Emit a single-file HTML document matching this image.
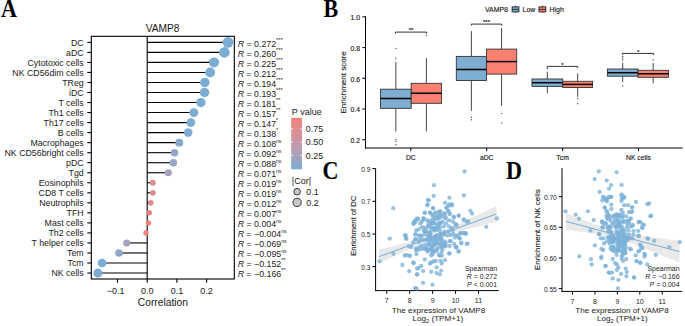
<!DOCTYPE html>
<html><head><meta charset="utf-8"><style>
html,body{margin:0;padding:0;background:#fff;}
svg{display:block;}
text{font-family:"Liberation Sans", sans-serif;fill:#1a1a1a;}
text[font-size="6.8"],text[font-size="6.9"],text[font-size="6.0"]{stroke:#1a1a1a;stroke-width:0.15px;}
text[font-size="7.6"],text[font-size="8.0"]{stroke:#1a1a1a;stroke-width:0.12px;}
text.serif{font-family:"Liberation Serif", serif;fill:#000;stroke:none;}
</style></head><body>
<svg width="685" height="326" viewBox="0 0 685 326">
<text transform="translate(1.0,16.8) scale(0.92,1.04)" class="serif" font-weight="bold" font-size="24">A</text>
<text transform="translate(323.6,16.5) scale(0.92,1.04)" class="serif" font-weight="bold" font-size="24">B</text>
<text transform="translate(322.6,178.8) scale(0.92,1.04)" class="serif" font-weight="bold" font-size="24">C</text>
<text transform="translate(505.9,178.5) scale(0.92,1.04)" class="serif" font-weight="bold" font-size="24">D</text>
<text x="162.60" y="31.80" font-size="10.2" text-anchor="middle" >VAMP8</text>
<rect x="91.3" y="36.3" width="143.0" height="242.7" fill="none" stroke="#000" stroke-width="1.1"/>
<line x1="147.20" y1="36.30" x2="147.20" y2="279.00" stroke="#000" stroke-width="1.1" />
<line x1="87.30" y1="42.35" x2="91.30" y2="42.35" stroke="#000" stroke-width="1.1" />
<text x="83.70" y="45.80" font-size="8.8" text-anchor="end" >DC</text>
<line x1="147.20" y1="42.35" x2="227.98" y2="42.35" stroke="#000" stroke-width="1.1" />
<line x1="87.30" y1="52.38" x2="91.30" y2="52.38" stroke="#000" stroke-width="1.1" />
<text x="83.70" y="55.83" font-size="8.8" text-anchor="end" >aDC</text>
<line x1="147.20" y1="52.38" x2="224.42" y2="52.38" stroke="#000" stroke-width="1.1" />
<line x1="87.30" y1="62.41" x2="91.30" y2="62.41" stroke="#000" stroke-width="1.1" />
<text x="83.70" y="65.86" font-size="8.8" text-anchor="end" >Cytotoxic cells</text>
<line x1="147.20" y1="62.41" x2="214.02" y2="62.41" stroke="#000" stroke-width="1.1" />
<line x1="87.30" y1="72.44" x2="91.30" y2="72.44" stroke="#000" stroke-width="1.1" />
<text x="83.70" y="75.89" font-size="8.8" text-anchor="end" >NK CD56dim cells</text>
<line x1="147.20" y1="72.44" x2="210.16" y2="72.44" stroke="#000" stroke-width="1.1" />
<line x1="87.30" y1="82.47" x2="91.30" y2="82.47" stroke="#000" stroke-width="1.1" />
<text x="83.70" y="85.92" font-size="8.8" text-anchor="end" >TReg</text>
<line x1="147.20" y1="82.47" x2="204.82" y2="82.47" stroke="#000" stroke-width="1.1" />
<line x1="87.30" y1="92.50" x2="91.30" y2="92.50" stroke="#000" stroke-width="1.1" />
<text x="83.70" y="95.95" font-size="8.8" text-anchor="end" >iDC</text>
<line x1="147.20" y1="92.50" x2="204.52" y2="92.50" stroke="#000" stroke-width="1.1" />
<line x1="87.30" y1="102.53" x2="91.30" y2="102.53" stroke="#000" stroke-width="1.1" />
<text x="83.70" y="105.98" font-size="8.8" text-anchor="end" >T cells</text>
<line x1="147.20" y1="102.53" x2="200.96" y2="102.53" stroke="#000" stroke-width="1.1" />
<line x1="87.30" y1="112.56" x2="91.30" y2="112.56" stroke="#000" stroke-width="1.1" />
<text x="83.70" y="116.01" font-size="8.8" text-anchor="end" >Th1 cells</text>
<line x1="147.20" y1="112.56" x2="193.83" y2="112.56" stroke="#000" stroke-width="1.1" />
<line x1="87.30" y1="122.59" x2="91.30" y2="122.59" stroke="#000" stroke-width="1.1" />
<text x="83.70" y="126.04" font-size="8.8" text-anchor="end" >Th17 cells</text>
<line x1="147.20" y1="122.59" x2="190.86" y2="122.59" stroke="#000" stroke-width="1.1" />
<line x1="87.30" y1="132.62" x2="91.30" y2="132.62" stroke="#000" stroke-width="1.1" />
<text x="83.70" y="136.07" font-size="8.8" text-anchor="end" >B cells</text>
<line x1="147.20" y1="132.62" x2="188.19" y2="132.62" stroke="#000" stroke-width="1.1" />
<line x1="87.30" y1="142.65" x2="91.30" y2="142.65" stroke="#000" stroke-width="1.1" />
<text x="83.70" y="146.10" font-size="8.8" text-anchor="end" >Macrophages</text>
<line x1="147.20" y1="142.65" x2="179.28" y2="142.65" stroke="#000" stroke-width="1.1" />
<line x1="87.30" y1="152.68" x2="91.30" y2="152.68" stroke="#000" stroke-width="1.1" />
<text x="83.70" y="156.13" font-size="8.8" text-anchor="end" >NK CD56bright cells</text>
<line x1="147.20" y1="152.68" x2="174.52" y2="152.68" stroke="#000" stroke-width="1.1" />
<line x1="87.30" y1="162.71" x2="91.30" y2="162.71" stroke="#000" stroke-width="1.1" />
<text x="83.70" y="166.16" font-size="8.8" text-anchor="end" >pDC</text>
<line x1="147.20" y1="162.71" x2="173.34" y2="162.71" stroke="#000" stroke-width="1.1" />
<line x1="87.30" y1="172.74" x2="91.30" y2="172.74" stroke="#000" stroke-width="1.1" />
<text x="83.70" y="176.19" font-size="8.8" text-anchor="end" >Tgd</text>
<line x1="147.20" y1="172.74" x2="168.29" y2="172.74" stroke="#000" stroke-width="1.1" />
<line x1="87.30" y1="182.77" x2="91.30" y2="182.77" stroke="#000" stroke-width="1.1" />
<text x="83.70" y="186.22" font-size="8.8" text-anchor="end" >Eosinophils</text>
<line x1="147.20" y1="182.77" x2="152.84" y2="182.77" stroke="#000" stroke-width="1.1" />
<line x1="87.30" y1="192.80" x2="91.30" y2="192.80" stroke="#000" stroke-width="1.1" />
<text x="83.70" y="196.25" font-size="8.8" text-anchor="end" >CD8 T cells</text>
<line x1="147.20" y1="192.80" x2="152.84" y2="192.80" stroke="#000" stroke-width="1.1" />
<line x1="87.30" y1="202.83" x2="91.30" y2="202.83" stroke="#000" stroke-width="1.1" />
<text x="83.70" y="206.28" font-size="8.8" text-anchor="end" >Neutrophils</text>
<line x1="147.20" y1="202.83" x2="150.76" y2="202.83" stroke="#000" stroke-width="1.1" />
<line x1="87.30" y1="212.86" x2="91.30" y2="212.86" stroke="#000" stroke-width="1.1" />
<text x="83.70" y="216.31" font-size="8.8" text-anchor="end" >TFH</text>
<line x1="147.20" y1="212.86" x2="149.28" y2="212.86" stroke="#000" stroke-width="1.1" />
<line x1="87.30" y1="222.89" x2="91.30" y2="222.89" stroke="#000" stroke-width="1.1" />
<text x="83.70" y="226.34" font-size="8.8" text-anchor="end" >Mast cells</text>
<line x1="147.20" y1="222.89" x2="148.39" y2="222.89" stroke="#000" stroke-width="1.1" />
<line x1="87.30" y1="232.92" x2="91.30" y2="232.92" stroke="#000" stroke-width="1.1" />
<text x="83.70" y="236.37" font-size="8.8" text-anchor="end" >Th2 cells</text>
<line x1="147.20" y1="232.92" x2="146.01" y2="232.92" stroke="#000" stroke-width="1.1" />
<line x1="87.30" y1="242.95" x2="91.30" y2="242.95" stroke="#000" stroke-width="1.1" />
<text x="83.70" y="246.40" font-size="8.8" text-anchor="end" >T helper cells</text>
<line x1="147.20" y1="242.95" x2="126.71" y2="242.95" stroke="#000" stroke-width="1.1" />
<line x1="87.30" y1="252.98" x2="91.30" y2="252.98" stroke="#000" stroke-width="1.1" />
<text x="83.70" y="256.43" font-size="8.8" text-anchor="end" >Tem</text>
<line x1="147.20" y1="252.98" x2="118.98" y2="252.98" stroke="#000" stroke-width="1.1" />
<line x1="87.30" y1="263.01" x2="91.30" y2="263.01" stroke="#000" stroke-width="1.1" />
<text x="83.70" y="266.46" font-size="8.8" text-anchor="end" >Tcm</text>
<line x1="147.20" y1="263.01" x2="102.06" y2="263.01" stroke="#000" stroke-width="1.1" />
<line x1="87.30" y1="273.04" x2="91.30" y2="273.04" stroke="#000" stroke-width="1.1" />
<text x="83.70" y="276.49" font-size="8.8" text-anchor="end" >NK cells</text>
<line x1="147.20" y1="273.04" x2="97.90" y2="273.04" stroke="#000" stroke-width="1.1" />
<circle cx="227.98" cy="42.35" r="5.36" fill="rgb(122,172,212)"/>
<circle cx="224.42" cy="52.38" r="5.27" fill="rgb(122,172,212)"/>
<circle cx="214.02" cy="62.41" r="5.00" fill="rgb(122,172,212)"/>
<circle cx="210.16" cy="72.44" r="4.89" fill="rgb(122,172,212)"/>
<circle cx="204.82" cy="82.47" r="4.75" fill="rgb(122,172,212)"/>
<circle cx="204.52" cy="92.50" r="4.74" fill="rgb(122,172,212)"/>
<circle cx="200.96" cy="102.53" r="4.63" fill="rgb(122,172,212)"/>
<circle cx="193.83" cy="112.56" r="4.42" fill="rgb(124,172,211)"/>
<circle cx="190.86" cy="122.59" r="4.33" fill="rgb(125,172,211)"/>
<circle cx="188.19" cy="132.62" r="4.25" fill="rgb(126,171,210)"/>
<circle cx="179.28" cy="142.65" r="3.95" fill="rgb(136,169,205)"/>
<circle cx="174.52" cy="152.68" r="3.79" fill="rgb(146,167,200)"/>
<circle cx="173.34" cy="162.71" r="3.75" fill="rgb(149,167,199)"/>
<circle cx="168.29" cy="172.74" r="3.56" fill="rgb(164,163,190)"/>
<circle cx="152.84" cy="182.77" r="2.92" fill="rgb(224,139,143)"/>
<circle cx="152.84" cy="192.80" r="2.92" fill="rgb(224,139,143)"/>
<circle cx="150.76" cy="202.83" r="2.82" fill="rgb(232,135,135)"/>
<circle cx="149.28" cy="212.86" r="2.75" fill="rgb(238,131,129)"/>
<circle cx="148.39" cy="222.89" r="2.71" fill="rgb(241,129,125)"/>
<circle cx="146.01" cy="232.92" r="2.71" fill="rgb(241,129,125)"/>
<circle cx="126.71" cy="242.95" r="3.54" fill="rgb(166,162,189)"/>
<circle cx="118.98" cy="252.98" r="3.82" fill="rgb(144,168,202)"/>
<circle cx="102.06" cy="263.01" r="4.38" fill="rgb(124,172,211)"/>
<circle cx="97.90" cy="273.04" r="4.50" fill="rgb(123,172,212)"/>
<text x="237.7" y="46.55" font-size="8.8"><tspan font-style="italic">R</tspan> = 0.272<tspan font-size="5.6" dy="-4.9">***</tspan></text>
<text x="237.7" y="56.58" font-size="8.8"><tspan font-style="italic">R</tspan> = 0.260<tspan font-size="5.6" dy="-4.9">***</tspan></text>
<text x="237.7" y="66.61" font-size="8.8"><tspan font-style="italic">R</tspan> = 0.225<tspan font-size="5.6" dy="-4.9">***</tspan></text>
<text x="237.7" y="76.64" font-size="8.8"><tspan font-style="italic">R</tspan> = 0.212<tspan font-size="5.6" dy="-4.9">***</tspan></text>
<text x="237.7" y="86.67" font-size="8.8"><tspan font-style="italic">R</tspan> = 0.194<tspan font-size="5.6" dy="-4.9">***</tspan></text>
<text x="237.7" y="96.70" font-size="8.8"><tspan font-style="italic">R</tspan> = 0.193<tspan font-size="5.6" dy="-4.9">***</tspan></text>
<text x="237.7" y="106.73" font-size="8.8"><tspan font-style="italic">R</tspan> = 0.181<tspan font-size="5.6" dy="-4.9">**</tspan></text>
<text x="237.7" y="116.76" font-size="8.8"><tspan font-style="italic">R</tspan> = 0.157<tspan font-size="5.6" dy="-4.9">**</tspan></text>
<text x="237.7" y="126.79" font-size="8.8"><tspan font-style="italic">R</tspan> = 0.147<tspan font-size="5.6" dy="-4.9">*</tspan></text>
<text x="237.7" y="136.82" font-size="8.8"><tspan font-style="italic">R</tspan> = 0.138<tspan font-size="5.6" dy="-4.9">*</tspan></text>
<text x="237.7" y="146.85" font-size="8.8"><tspan font-style="italic">R</tspan> = 0.108<tspan font-size="5.0" dy="-4.1">ns</tspan></text>
<text x="237.7" y="156.88" font-size="8.8"><tspan font-style="italic">R</tspan> = 0.092<tspan font-size="5.0" dy="-4.1">ns</tspan></text>
<text x="237.7" y="166.91" font-size="8.8"><tspan font-style="italic">R</tspan> = 0.088<tspan font-size="5.0" dy="-4.1">ns</tspan></text>
<text x="237.7" y="176.94" font-size="8.8"><tspan font-style="italic">R</tspan> = 0.071<tspan font-size="5.0" dy="-4.1">ns</tspan></text>
<text x="237.7" y="186.97" font-size="8.8"><tspan font-style="italic">R</tspan> = 0.019<tspan font-size="5.0" dy="-4.1">ns</tspan></text>
<text x="237.7" y="197.00" font-size="8.8"><tspan font-style="italic">R</tspan> = 0.019<tspan font-size="5.0" dy="-4.1">ns</tspan></text>
<text x="237.7" y="207.03" font-size="8.8"><tspan font-style="italic">R</tspan> = 0.012<tspan font-size="5.0" dy="-4.1">ns</tspan></text>
<text x="237.7" y="217.06" font-size="8.8"><tspan font-style="italic">R</tspan> = 0.007<tspan font-size="5.0" dy="-4.1">ns</tspan></text>
<text x="237.7" y="227.09" font-size="8.8"><tspan font-style="italic">R</tspan> = 0.004<tspan font-size="5.0" dy="-4.1">ns</tspan></text>
<text x="237.7" y="237.12" font-size="8.8"><tspan font-style="italic">R</tspan> = −0.004<tspan font-size="5.0" dy="-4.1">ns</tspan></text>
<text x="237.7" y="247.15" font-size="8.8"><tspan font-style="italic">R</tspan> = −0.069<tspan font-size="5.0" dy="-4.1">ns</tspan></text>
<text x="237.7" y="257.18" font-size="8.8"><tspan font-style="italic">R</tspan> = −0.095<tspan font-size="5.0" dy="-4.1">ns</tspan></text>
<text x="237.7" y="267.21" font-size="8.8"><tspan font-style="italic">R</tspan> = −0.152<tspan font-size="5.6" dy="-4.9">**</tspan></text>
<text x="237.7" y="277.24" font-size="8.8"><tspan font-style="italic">R</tspan> = −0.166<tspan font-size="5.6" dy="-4.9">**</tspan></text>
<line x1="117.50" y1="279.00" x2="117.50" y2="282.70" stroke="#000" stroke-width="1.1" />
<text x="115.60" y="294.00" font-size="9.0" text-anchor="middle" >−0.1</text>
<line x1="147.20" y1="279.00" x2="147.20" y2="282.70" stroke="#000" stroke-width="1.1" />
<text x="147.20" y="294.00" font-size="9.0" text-anchor="middle" >0.0</text>
<line x1="176.90" y1="279.00" x2="176.90" y2="282.70" stroke="#000" stroke-width="1.1" />
<text x="176.90" y="294.00" font-size="9.0" text-anchor="middle" >0.1</text>
<line x1="206.60" y1="279.00" x2="206.60" y2="282.70" stroke="#000" stroke-width="1.1" />
<text x="206.60" y="294.00" font-size="9.0" text-anchor="middle" >0.2</text>
<text x="162.90" y="306.30" font-size="10.25" text-anchor="middle" >Correlation</text>
<text x="291.80" y="115.00" font-size="9.0" text-anchor="start" >P value</text>
<defs><linearGradient id="pg" x1="0" y1="0" x2="0" y2="1"><stop offset="0.0" stop-color="rgb(242,128,124)"/><stop offset="0.1" stop-color="rgb(234,133,133)"/><stop offset="0.2" stop-color="rgb(225,139,141)"/><stop offset="0.3" stop-color="rgb(216,143,150)"/><stop offset="0.4" stop-color="rgb(206,148,159)"/><stop offset="0.5" stop-color="rgb(196,152,168)"/><stop offset="0.6" stop-color="rgb(184,157,176)"/><stop offset="0.7" stop-color="rgb(171,161,185)"/><stop offset="0.8" stop-color="rgb(157,165,194)"/><stop offset="0.9" stop-color="rgb(141,168,203)"/><stop offset="1.0" stop-color="rgb(122,172,212)"/></linearGradient></defs>
<rect x="291.2" y="117.9" width="10.8" height="51.4" fill="url(#pg)"/>
<line x1="291.20" y1="128.90" x2="293.20" y2="128.90" stroke="#fff" stroke-width="0.8" />
<line x1="300.00" y1="128.90" x2="302.00" y2="128.90" stroke="#fff" stroke-width="0.8" />
<text x="305.80" y="132.00" font-size="8.9" text-anchor="start" >0.75</text>
<line x1="291.20" y1="142.20" x2="293.20" y2="142.20" stroke="#fff" stroke-width="0.8" />
<line x1="300.00" y1="142.20" x2="302.00" y2="142.20" stroke="#fff" stroke-width="0.8" />
<text x="305.80" y="145.30" font-size="8.9" text-anchor="start" >0.50</text>
<line x1="291.20" y1="155.40" x2="293.20" y2="155.40" stroke="#fff" stroke-width="0.8" />
<line x1="300.00" y1="155.40" x2="302.00" y2="155.40" stroke="#fff" stroke-width="0.8" />
<text x="305.80" y="158.50" font-size="8.9" text-anchor="start" >0.25</text>
<text x="291.80" y="183.60" font-size="9.0" text-anchor="start" >|Cor|</text>
<circle cx="297.1" cy="191.7" r="3.3" fill="#c8c8c8" stroke="#222" stroke-width="0.9"/>
<text x="306.30" y="194.80" font-size="8.8" text-anchor="start" >0.1</text>
<circle cx="297.1" cy="202.4" r="4.1" fill="#c8c8c8" stroke="#222" stroke-width="0.9"/>
<text x="306.30" y="205.50" font-size="8.8" text-anchor="start" >0.2</text>
<line x1="365.50" y1="16.20" x2="365.50" y2="148.30" stroke="#000" stroke-width="1.0" />
<line x1="365.00" y1="148.00" x2="682.60" y2="148.00" stroke="#000" stroke-width="1.0" />
<line x1="362.30" y1="16.90" x2="365.50" y2="16.90" stroke="#000" stroke-width="1.0" />
<text x="360.00" y="20.20" font-size="6.8" text-anchor="end" >1.0</text>
<line x1="362.30" y1="47.60" x2="365.50" y2="47.60" stroke="#000" stroke-width="1.0" />
<text x="360.00" y="50.90" font-size="6.8" text-anchor="end" >0.8</text>
<line x1="362.30" y1="78.30" x2="365.50" y2="78.30" stroke="#000" stroke-width="1.0" />
<text x="360.00" y="81.60" font-size="6.8" text-anchor="end" >0.6</text>
<line x1="362.30" y1="109.00" x2="365.50" y2="109.00" stroke="#000" stroke-width="1.0" />
<text x="360.00" y="112.30" font-size="6.8" text-anchor="end" >0.4</text>
<line x1="362.30" y1="139.70" x2="365.50" y2="139.70" stroke="#000" stroke-width="1.0" />
<text x="360.00" y="143.00" font-size="6.8" text-anchor="end" >0.2</text>
<line x1="410.80" y1="148.00" x2="410.80" y2="151.20" stroke="#000" stroke-width="1.0" />
<text x="410.80" y="159.70" font-size="6.8" text-anchor="middle" >DC</text>
<line x1="486.70" y1="148.00" x2="486.70" y2="151.20" stroke="#000" stroke-width="1.0" />
<text x="486.70" y="159.70" font-size="6.8" text-anchor="middle" >aDC</text>
<line x1="562.60" y1="148.00" x2="562.60" y2="151.20" stroke="#000" stroke-width="1.0" />
<text x="562.60" y="159.70" font-size="6.8" text-anchor="middle" >Tcm</text>
<line x1="638.50" y1="148.00" x2="638.50" y2="151.20" stroke="#000" stroke-width="1.0" />
<text x="638.50" y="159.70" font-size="6.8" text-anchor="middle" >NK cells</text>
<text transform="translate(345.8,82.4) rotate(-90)" font-size="8.0" text-anchor="middle">Enrichment score</text>
<text x="485.00" y="11.80" font-size="6.9" text-anchor="start" >VAMP8</text>
<text x="522.60" y="11.80" font-size="6.9" text-anchor="start" >Low</text>
<text x="549.60" y="11.80" font-size="6.9" text-anchor="start" >High</text>
<line x1="515.50" y1="5.60" x2="515.50" y2="12.80" stroke="#222" stroke-width="0.9" />
<rect x="512.1" y="6.9" width="6.8" height="5.0" fill="rgb(125, 174, 209)" stroke="#222" stroke-width="0.9"/>
<line x1="512.10" y1="9.40" x2="518.90" y2="9.40" stroke="#222" stroke-width="0.9" />
<line x1="542.40" y1="5.60" x2="542.40" y2="12.80" stroke="#222" stroke-width="0.9" />
<rect x="539.0" y="6.9" width="6.8" height="5.0" fill="rgb(250, 128, 114)" stroke="#222" stroke-width="0.9"/>
<line x1="539.00" y1="9.40" x2="545.80" y2="9.40" stroke="#222" stroke-width="0.9" />
<line x1="395.85" y1="61.80" x2="395.85" y2="89.20" stroke="#333" stroke-width="0.9" />
<line x1="395.85" y1="108.30" x2="395.85" y2="131.50" stroke="#333" stroke-width="0.9" />
<rect x="380.50" y="89.20" width="30.70" height="19.10" fill="rgb(125, 174, 209)" stroke="#333" stroke-width="0.9"/>
<line x1="380.50" y1="98.50" x2="411.20" y2="98.50" stroke="#000" stroke-width="1.5" />
<circle cx="395.85" cy="48.40" r="0.7" fill="#555"/>
<circle cx="395.85" cy="58.50" r="0.7" fill="#555"/>
<circle cx="395.85" cy="139.60" r="0.7" fill="#555"/>
<circle cx="395.85" cy="141.30" r="0.7" fill="#555"/>
<circle cx="395.85" cy="144.80" r="0.7" fill="#555"/>
<line x1="426.40" y1="58.10" x2="426.40" y2="83.30" stroke="#333" stroke-width="0.9" />
<line x1="426.40" y1="103.30" x2="426.40" y2="131.50" stroke="#333" stroke-width="0.9" />
<rect x="411.20" y="83.30" width="30.40" height="20.00" fill="rgb(250, 128, 114)" stroke="#333" stroke-width="0.9"/>
<line x1="411.20" y1="93.20" x2="441.60" y2="93.20" stroke="#000" stroke-width="1.5" />
<circle cx="426.40" cy="35.50" r="0.7" fill="#555"/>
<line x1="471.40" y1="31.20" x2="471.40" y2="56.40" stroke="#333" stroke-width="0.9" />
<line x1="471.40" y1="80.50" x2="471.40" y2="110.90" stroke="#333" stroke-width="0.9" />
<rect x="456.30" y="56.40" width="30.20" height="24.10" fill="rgb(125, 174, 209)" stroke="#333" stroke-width="0.9"/>
<line x1="456.30" y1="69.50" x2="486.50" y2="69.50" stroke="#000" stroke-width="1.5" />
<circle cx="471.40" cy="117.30" r="0.7" fill="#555"/>
<circle cx="471.40" cy="119.70" r="0.7" fill="#555"/>
<line x1="501.60" y1="27.90" x2="501.60" y2="49.10" stroke="#333" stroke-width="0.9" />
<line x1="501.60" y1="74.10" x2="501.60" y2="105.90" stroke="#333" stroke-width="0.9" />
<rect x="486.50" y="49.10" width="30.20" height="25.00" fill="rgb(250, 128, 114)" stroke="#333" stroke-width="0.9"/>
<line x1="486.50" y1="61.60" x2="516.70" y2="61.60" stroke="#000" stroke-width="1.5" />
<circle cx="501.60" cy="113.60" r="0.7" fill="#555"/>
<circle cx="501.60" cy="122.90" r="0.7" fill="#555"/>
<line x1="547.35" y1="71.70" x2="547.35" y2="79.00" stroke="#333" stroke-width="0.9" />
<line x1="547.35" y1="86.40" x2="547.35" y2="93.20" stroke="#333" stroke-width="0.9" />
<rect x="532.00" y="79.00" width="30.70" height="7.40" fill="rgb(125, 174, 209)" stroke="#333" stroke-width="0.9"/>
<line x1="532.00" y1="82.70" x2="562.70" y2="82.70" stroke="#000" stroke-width="1.5" />
<circle cx="547.35" cy="68.40" r="0.7" fill="#555"/>
<line x1="577.65" y1="73.50" x2="577.65" y2="81.30" stroke="#333" stroke-width="0.9" />
<line x1="577.65" y1="87.50" x2="577.65" y2="96.90" stroke="#333" stroke-width="0.9" />
<rect x="562.70" y="81.30" width="29.90" height="6.20" fill="rgb(250, 128, 114)" stroke="#333" stroke-width="0.9"/>
<line x1="562.70" y1="84.40" x2="592.60" y2="84.40" stroke="#000" stroke-width="1.5" />
<circle cx="577.65" cy="98.50" r="0.7" fill="#555"/>
<circle cx="577.65" cy="103.70" r="0.7" fill="#555"/>
<line x1="622.70" y1="63.00" x2="622.70" y2="69.00" stroke="#333" stroke-width="0.9" />
<line x1="622.70" y1="76.20" x2="622.70" y2="82.00" stroke="#333" stroke-width="0.9" />
<rect x="607.40" y="69.00" width="30.60" height="7.20" fill="rgb(125, 174, 209)" stroke="#333" stroke-width="0.9"/>
<line x1="607.40" y1="72.70" x2="638.00" y2="72.70" stroke="#000" stroke-width="1.5" />
<circle cx="622.70" cy="56.50" r="0.7" fill="#555"/>
<circle cx="622.70" cy="58.20" r="0.7" fill="#555"/>
<circle cx="622.70" cy="60.00" r="0.7" fill="#555"/>
<circle cx="622.70" cy="86.00" r="0.7" fill="#555"/>
<line x1="653.20" y1="63.00" x2="653.20" y2="70.30" stroke="#333" stroke-width="0.9" />
<line x1="653.20" y1="77.30" x2="653.20" y2="83.20" stroke="#333" stroke-width="0.9" />
<rect x="638.00" y="70.30" width="30.40" height="7.00" fill="rgb(250, 128, 114)" stroke="#333" stroke-width="0.9"/>
<line x1="638.00" y1="73.80" x2="668.40" y2="73.80" stroke="#000" stroke-width="1.5" />
<circle cx="653.20" cy="60.00" r="0.7" fill="#555"/>
<path d="M395.5,33.7 L395.5,32.1 L426.5,32.1 L426.5,33.7" fill="none" stroke="#2a2a2a" stroke-width="0.95"/>
<text x="411.00" y="32.20" font-size="6.0" text-anchor="middle" >**</text>
<path d="M471.3,25.700000000000003 L471.3,24.1 L501.7,24.1 L501.7,25.700000000000003" fill="none" stroke="#2a2a2a" stroke-width="0.95"/>
<text x="486.50" y="24.20" font-size="6.0" text-anchor="middle" >***</text>
<path d="M547.2,68.0 L547.2,66.4 L577.7,66.4 L577.7,68.0" fill="none" stroke="#2a2a2a" stroke-width="0.95"/>
<text x="562.45" y="66.60" font-size="6.0" text-anchor="middle" >*</text>
<path d="M622.4,55.0 L622.4,53.4 L653.7,53.4 L653.7,55.0" fill="none" stroke="#2a2a2a" stroke-width="0.95"/>
<text x="638.05" y="53.70" font-size="6.0" text-anchor="middle" >*</text>
<line x1="375.60" y1="168.40" x2="375.60" y2="291.10" stroke="#000" stroke-width="1.0" />
<line x1="375.10" y1="290.60" x2="498.80" y2="290.60" stroke="#000" stroke-width="1.0" />
<line x1="386.70" y1="290.60" x2="386.70" y2="293.80" stroke="#000" stroke-width="1.0" />
<text x="386.70" y="303.20" font-size="7.0" text-anchor="middle" >7</text>
<line x1="409.65" y1="290.60" x2="409.65" y2="293.80" stroke="#000" stroke-width="1.0" />
<text x="409.65" y="303.20" font-size="7.0" text-anchor="middle" >8</text>
<line x1="432.60" y1="290.60" x2="432.60" y2="293.80" stroke="#000" stroke-width="1.0" />
<text x="432.60" y="303.20" font-size="7.0" text-anchor="middle" >9</text>
<line x1="455.55" y1="290.60" x2="455.55" y2="293.80" stroke="#000" stroke-width="1.0" />
<text x="455.55" y="303.20" font-size="7.0" text-anchor="middle" >10</text>
<line x1="478.50" y1="290.60" x2="478.50" y2="293.80" stroke="#000" stroke-width="1.0" />
<text x="478.50" y="303.20" font-size="7.0" text-anchor="middle" >11</text>
<line x1="372.40" y1="168.60" x2="375.60" y2="168.60" stroke="#000" stroke-width="1.0" />
<text x="370.40" y="171.70" font-size="6.6" text-anchor="end" >0.9</text>
<line x1="372.40" y1="201.30" x2="375.60" y2="201.30" stroke="#000" stroke-width="1.0" />
<text x="370.40" y="204.40" font-size="6.6" text-anchor="end" >0.7</text>
<line x1="372.40" y1="234.00" x2="375.60" y2="234.00" stroke="#000" stroke-width="1.0" />
<text x="370.40" y="237.10" font-size="6.6" text-anchor="end" >0.5</text>
<line x1="372.40" y1="266.70" x2="375.60" y2="266.70" stroke="#000" stroke-width="1.0" />
<text x="370.40" y="269.80" font-size="6.6" text-anchor="end" >0.3</text>
<text transform="translate(356.1,225.8) rotate(-90)" font-size="7.6" text-anchor="middle">Enrichment of DC</text>
<line x1="562.00" y1="168.10" x2="562.00" y2="291.90" stroke="#000" stroke-width="1.0" />
<line x1="561.50" y1="291.40" x2="682.30" y2="291.40" stroke="#000" stroke-width="1.0" />
<line x1="572.50" y1="291.40" x2="572.50" y2="294.60" stroke="#000" stroke-width="1.0" />
<text x="572.50" y="304.00" font-size="7.0" text-anchor="middle" >7</text>
<line x1="594.93" y1="291.40" x2="594.93" y2="294.60" stroke="#000" stroke-width="1.0" />
<text x="594.93" y="304.00" font-size="7.0" text-anchor="middle" >8</text>
<line x1="617.36" y1="291.40" x2="617.36" y2="294.60" stroke="#000" stroke-width="1.0" />
<text x="617.36" y="304.00" font-size="7.0" text-anchor="middle" >9</text>
<line x1="639.79" y1="291.40" x2="639.79" y2="294.60" stroke="#000" stroke-width="1.0" />
<text x="639.79" y="304.00" font-size="7.0" text-anchor="middle" >10</text>
<line x1="662.22" y1="291.40" x2="662.22" y2="294.60" stroke="#000" stroke-width="1.0" />
<text x="662.22" y="304.00" font-size="7.0" text-anchor="middle" >11</text>
<line x1="558.80" y1="196.70" x2="562.00" y2="196.70" stroke="#000" stroke-width="1.0" />
<text x="556.80" y="199.80" font-size="6.6" text-anchor="end" >0.70</text>
<line x1="558.80" y1="227.33" x2="562.00" y2="227.33" stroke="#000" stroke-width="1.0" />
<text x="556.80" y="230.43" font-size="6.6" text-anchor="end" >0.65</text>
<line x1="558.80" y1="257.96" x2="562.00" y2="257.96" stroke="#000" stroke-width="1.0" />
<text x="556.80" y="261.06" font-size="6.6" text-anchor="end" >0.60</text>
<line x1="558.80" y1="288.59" x2="562.00" y2="288.59" stroke="#000" stroke-width="1.0" />
<text x="556.80" y="291.69" font-size="6.6" text-anchor="end" >0.55</text>
<text x="438.50" y="312.90" font-size="8.1" text-anchor="middle" >The expression of VAMP8</text>
<text x="437.8" y="320.6" font-size="8.1" text-anchor="middle">Log<tspan font-size="5.8" dy="1.9">2</tspan><tspan dy="-1.9"> (TPM+1)</tspan></text>
<text x="497.00" y="270.70" font-size="6.95" text-anchor="end" >Spearman</text>
<text x="497.0" y="279.3" font-size="6.95" text-anchor="end"><tspan font-style="italic">R</tspan> = 0.272</text>
<text x="497.0" y="287.0" font-size="6.95" text-anchor="end"><tspan font-style="italic">P</tspan> &lt; 0.001</text>
<text x="622.00" y="312.90" font-size="8.1" text-anchor="middle" >The expression of VAMP8</text>
<text x="622.4" y="320.6" font-size="8.1" text-anchor="middle">Log<tspan font-size="5.8" dy="1.9">2</tspan><tspan dy="-1.9"> (TPM+1)</tspan></text>
<text x="679.50" y="270.70" font-size="6.95" text-anchor="end" >Spearman</text>
<text x="679.5" y="279.3" font-size="6.95" text-anchor="end"><tspan font-style="italic">R</tspan> = −0.166</text>
<text x="679.5" y="287.0" font-size="6.95" text-anchor="end"><tspan font-style="italic">P</tspan> = 0.004</text>
<text transform="translate(539.8,229.7) rotate(-90)" font-size="8.0" text-anchor="middle">Enrichment of NK cells</text>
<g opacity="0.22">
<path d="M379.00,249.70 L381.94,248.98 L384.88,248.25 L387.82,247.52 L390.76,246.79 L393.70,246.06 L396.64,245.32 L399.58,244.58 L402.52,243.83 L405.46,243.08 L408.40,242.31 L411.34,241.54 L414.28,240.75 L417.22,239.94 L420.16,239.11 L423.10,238.25 L426.04,237.35 L428.98,236.39 L431.92,235.38 L434.86,234.30 L437.80,233.17 L440.74,231.97 L443.68,230.73 L446.62,229.44 L449.56,228.13 L452.50,226.80 L455.44,225.45 L458.38,224.09 L461.32,222.71 L464.26,221.33 L467.20,219.94 L470.14,218.55 L473.08,217.15 L476.02,215.75 L478.96,214.34 L481.90,212.93 L484.84,211.52 L487.78,210.11 L490.72,208.70 L493.66,207.29 L496.60,205.87 L496.60,221.93 L493.66,222.65 L490.72,223.37 L487.78,224.09 L484.84,224.82 L481.90,225.54 L478.96,226.27 L476.02,227.00 L473.08,227.73 L470.14,228.47 L467.20,229.21 L464.26,229.96 L461.32,230.71 L458.38,231.47 L455.44,232.24 L452.50,233.02 L449.56,233.83 L446.62,234.65 L443.68,235.50 L440.74,236.40 L437.80,237.33 L434.86,238.33 L431.92,239.39 L428.98,240.51 L426.04,241.69 L423.10,242.93 L420.16,244.20 L417.22,245.50 L414.28,246.83 L411.34,248.18 L408.40,249.54 L405.46,250.91 L402.52,252.29 L399.58,253.68 L396.64,255.07 L393.70,256.47 L390.76,257.87 L387.82,259.27 L384.88,260.68 L381.94,262.09 L379.00,263.50Z" fill="#999"/>
<path d="M566.00,213.03 L568.84,214.17 L571.67,215.30 L574.51,216.43 L577.35,217.55 L580.19,218.66 L583.02,219.76 L585.86,220.85 L588.70,221.92 L591.54,222.98 L594.38,224.01 L597.21,225.02 L600.05,226.01 L602.89,226.95 L605.73,227.87 L608.56,228.74 L611.40,229.56 L614.24,230.33 L617.08,231.06 L619.91,231.74 L622.75,232.37 L625.59,232.96 L628.42,233.52 L631.26,234.04 L634.10,234.54 L636.94,235.01 L639.77,235.46 L642.61,235.89 L645.45,236.31 L648.29,236.72 L651.12,237.12 L653.96,237.51 L656.80,237.89 L659.64,238.27 L662.48,238.64 L665.31,239.00 L668.15,239.36 L670.99,239.72 L673.83,240.07 L676.66,240.42 L679.50,240.77 L679.50,262.43 L676.66,261.27 L673.83,260.11 L670.99,258.95 L668.15,257.80 L665.31,256.65 L662.48,255.50 L659.64,254.36 L656.80,253.23 L653.96,252.10 L651.12,250.98 L648.29,249.87 L645.45,248.77 L642.61,247.68 L639.77,246.60 L636.94,245.54 L634.10,244.50 L631.26,243.49 L628.42,242.50 L625.59,241.55 L622.75,240.63 L619.91,239.75 L617.08,238.92 L614.24,238.14 L611.40,237.40 L608.56,236.71 L605.73,236.07 L602.89,235.48 L600.05,234.91 L597.21,234.39 L594.38,233.89 L591.54,233.41 L588.70,232.96 L585.86,232.52 L583.02,232.10 L580.19,231.69 L577.35,231.29 L574.51,230.90 L571.67,230.52 L568.84,230.14 L566.00,229.77Z" fill="#999"/>
</g>
<line x1="379.00" y1="256.60" x2="496.60" y2="213.90" stroke="#5a9acb" stroke-width="0.8" />
<line x1="566.00" y1="221.40" x2="679.50" y2="251.60" stroke="#5a9acb" stroke-width="0.8" />
<circle cx="434.0" cy="185.2" r="2.15" fill="rgb(124,177,216)" fill-opacity="0.78"/>
<circle cx="464.6" cy="171.5" r="2.15" fill="rgb(124,177,216)" fill-opacity="0.78"/>
<circle cx="393.2" cy="208.2" r="2.15" fill="rgb(124,177,216)" fill-opacity="0.78"/>
<circle cx="433.7" cy="195.9" r="2.15" fill="rgb(124,177,216)" fill-opacity="0.78"/>
<circle cx="427.8" cy="199.8" r="2.15" fill="rgb(124,177,216)" fill-opacity="0.78"/>
<circle cx="429.0" cy="200.3" r="2.15" fill="rgb(124,177,216)" fill-opacity="0.78"/>
<circle cx="427.6" cy="204.5" r="2.15" fill="rgb(124,177,216)" fill-opacity="0.78"/>
<circle cx="433.2" cy="208.2" r="2.15" fill="rgb(124,177,216)" fill-opacity="0.78"/>
<circle cx="449.4" cy="197.7" r="2.15" fill="rgb(124,177,216)" fill-opacity="0.78"/>
<circle cx="445.0" cy="202.8" r="2.15" fill="rgb(124,177,216)" fill-opacity="0.78"/>
<circle cx="448.9" cy="204.7" r="2.15" fill="rgb(124,177,216)" fill-opacity="0.78"/>
<circle cx="451.8" cy="204.2" r="2.15" fill="rgb(124,177,216)" fill-opacity="0.78"/>
<circle cx="446.4" cy="207.7" r="2.15" fill="rgb(124,177,216)" fill-opacity="0.78"/>
<circle cx="424.8" cy="212.8" r="2.15" fill="rgb(124,177,216)" fill-opacity="0.78"/>
<circle cx="430.2" cy="212.8" r="2.15" fill="rgb(124,177,216)" fill-opacity="0.78"/>
<circle cx="435.1" cy="213.6" r="2.15" fill="rgb(124,177,216)" fill-opacity="0.78"/>
<circle cx="440.0" cy="211.6" r="2.15" fill="rgb(124,177,216)" fill-opacity="0.78"/>
<circle cx="440.5" cy="214.0" r="2.15" fill="rgb(124,177,216)" fill-opacity="0.78"/>
<circle cx="444.5" cy="213.6" r="2.15" fill="rgb(124,177,216)" fill-opacity="0.78"/>
<circle cx="448.4" cy="211.1" r="2.15" fill="rgb(124,177,216)" fill-opacity="0.78"/>
<circle cx="449.4" cy="213.1" r="2.15" fill="rgb(124,177,216)" fill-opacity="0.78"/>
<circle cx="453.8" cy="217.0" r="2.15" fill="rgb(124,177,216)" fill-opacity="0.78"/>
<circle cx="418.0" cy="219.0" r="2.15" fill="rgb(124,177,216)" fill-opacity="0.78"/>
<circle cx="423.9" cy="219.4" r="2.15" fill="rgb(124,177,216)" fill-opacity="0.78"/>
<circle cx="433.7" cy="216.5" r="2.15" fill="rgb(124,177,216)" fill-opacity="0.78"/>
<circle cx="437.6" cy="217.0" r="2.15" fill="rgb(124,177,216)" fill-opacity="0.78"/>
<circle cx="442.5" cy="216.5" r="2.15" fill="rgb(124,177,216)" fill-opacity="0.78"/>
<circle cx="445.4" cy="218.5" r="2.15" fill="rgb(124,177,216)" fill-opacity="0.78"/>
<circle cx="463.9" cy="195.4" r="2.15" fill="rgb(124,177,216)" fill-opacity="0.78"/>
<circle cx="470.5" cy="210.8" r="2.15" fill="rgb(124,177,216)" fill-opacity="0.78"/>
<circle cx="472.2" cy="213.6" r="2.15" fill="rgb(124,177,216)" fill-opacity="0.78"/>
<circle cx="458.8" cy="215.7" r="2.15" fill="rgb(124,177,216)" fill-opacity="0.78"/>
<circle cx="463.9" cy="219.7" r="2.15" fill="rgb(124,177,216)" fill-opacity="0.78"/>
<circle cx="468.0" cy="221.2" r="2.15" fill="rgb(124,177,216)" fill-opacity="0.78"/>
<circle cx="496.8" cy="218.5" r="2.15" fill="rgb(124,177,216)" fill-opacity="0.78"/>
<circle cx="389.7" cy="238.6" r="2.15" fill="rgb(124,177,216)" fill-opacity="0.78"/>
<circle cx="405.0" cy="235.2" r="2.15" fill="rgb(124,177,216)" fill-opacity="0.78"/>
<circle cx="405.9" cy="238.6" r="2.15" fill="rgb(124,177,216)" fill-opacity="0.78"/>
<circle cx="413.8" cy="223.4" r="2.15" fill="rgb(124,177,216)" fill-opacity="0.78"/>
<circle cx="415.7" cy="221.5" r="2.15" fill="rgb(124,177,216)" fill-opacity="0.78"/>
<circle cx="416.2" cy="230.3" r="2.15" fill="rgb(124,177,216)" fill-opacity="0.78"/>
<circle cx="415.3" cy="234.7" r="2.15" fill="rgb(124,177,216)" fill-opacity="0.78"/>
<circle cx="416.2" cy="239.1" r="2.15" fill="rgb(124,177,216)" fill-opacity="0.78"/>
<circle cx="413.3" cy="242.1" r="2.15" fill="rgb(124,177,216)" fill-opacity="0.78"/>
<circle cx="408.9" cy="246.3" r="2.15" fill="rgb(124,177,216)" fill-opacity="0.78"/>
<circle cx="411.3" cy="247.0" r="2.15" fill="rgb(124,177,216)" fill-opacity="0.78"/>
<circle cx="416.2" cy="248.5" r="2.15" fill="rgb(124,177,216)" fill-opacity="0.78"/>
<circle cx="416.2" cy="250.4" r="2.15" fill="rgb(124,177,216)" fill-opacity="0.78"/>
<circle cx="486.3" cy="226.8" r="2.15" fill="rgb(124,177,216)" fill-opacity="0.78"/>
<circle cx="456.5" cy="224.9" r="2.15" fill="rgb(124,177,216)" fill-opacity="0.78"/>
<circle cx="460.9" cy="233.2" r="2.15" fill="rgb(124,177,216)" fill-opacity="0.78"/>
<circle cx="464.8" cy="233.2" r="2.15" fill="rgb(124,177,216)" fill-opacity="0.78"/>
<circle cx="465.8" cy="233.7" r="2.15" fill="rgb(124,177,216)" fill-opacity="0.78"/>
<circle cx="458.0" cy="236.2" r="2.15" fill="rgb(124,177,216)" fill-opacity="0.78"/>
<circle cx="459.9" cy="238.6" r="2.15" fill="rgb(124,177,216)" fill-opacity="0.78"/>
<circle cx="461.4" cy="243.0" r="2.15" fill="rgb(124,177,216)" fill-opacity="0.78"/>
<circle cx="467.6" cy="243.7" r="2.15" fill="rgb(124,177,216)" fill-opacity="0.78"/>
<circle cx="456.5" cy="247.5" r="2.15" fill="rgb(124,177,216)" fill-opacity="0.78"/>
<circle cx="379.6" cy="261.3" r="2.15" fill="rgb(124,177,216)" fill-opacity="0.78"/>
<circle cx="393.4" cy="253.8" r="2.15" fill="rgb(124,177,216)" fill-opacity="0.78"/>
<circle cx="404.6" cy="255.5" r="2.15" fill="rgb(124,177,216)" fill-opacity="0.78"/>
<circle cx="409.8" cy="256.0" r="2.15" fill="rgb(124,177,216)" fill-opacity="0.78"/>
<circle cx="402.4" cy="265.0" r="2.15" fill="rgb(124,177,216)" fill-opacity="0.78"/>
<circle cx="413.6" cy="263.2" r="2.15" fill="rgb(124,177,216)" fill-opacity="0.78"/>
<circle cx="409.2" cy="271.2" r="2.15" fill="rgb(124,177,216)" fill-opacity="0.78"/>
<circle cx="417.0" cy="268.6" r="2.15" fill="rgb(124,177,216)" fill-opacity="0.78"/>
<circle cx="417.0" cy="274.4" r="2.15" fill="rgb(124,177,216)" fill-opacity="0.78"/>
<circle cx="415.3" cy="288.0" r="2.15" fill="rgb(124,177,216)" fill-opacity="0.78"/>
<circle cx="416.6" cy="249.3" r="2.15" fill="rgb(124,177,216)" fill-opacity="0.78"/>
<circle cx="449.2" cy="253.4" r="2.15" fill="rgb(124,177,216)" fill-opacity="0.78"/>
<circle cx="441.8" cy="255.7" r="2.15" fill="rgb(124,177,216)" fill-opacity="0.78"/>
<circle cx="441.8" cy="263.5" r="2.15" fill="rgb(124,177,216)" fill-opacity="0.78"/>
<circle cx="440.5" cy="260.9" r="2.15" fill="rgb(124,177,216)" fill-opacity="0.78"/>
<circle cx="429.9" cy="263.5" r="2.15" fill="rgb(124,177,216)" fill-opacity="0.78"/>
<circle cx="433.4" cy="261.5" r="2.15" fill="rgb(124,177,216)" fill-opacity="0.78"/>
<circle cx="436.6" cy="267.3" r="2.15" fill="rgb(124,177,216)" fill-opacity="0.78"/>
<circle cx="441.1" cy="270.6" r="2.15" fill="rgb(124,177,216)" fill-opacity="0.78"/>
<circle cx="423.1" cy="270.9" r="2.15" fill="rgb(124,177,216)" fill-opacity="0.78"/>
<circle cx="431.2" cy="271.8" r="2.15" fill="rgb(124,177,216)" fill-opacity="0.78"/>
<circle cx="436.6" cy="273.1" r="2.15" fill="rgb(124,177,216)" fill-opacity="0.78"/>
<circle cx="439.8" cy="274.4" r="2.15" fill="rgb(124,177,216)" fill-opacity="0.78"/>
<circle cx="417.3" cy="274.4" r="2.15" fill="rgb(124,177,216)" fill-opacity="0.78"/>
<circle cx="421.2" cy="266.0" r="2.15" fill="rgb(124,177,216)" fill-opacity="0.78"/>
<circle cx="418.6" cy="268.0" r="2.15" fill="rgb(124,177,216)" fill-opacity="0.78"/>
<circle cx="423.1" cy="282.8" r="2.15" fill="rgb(124,177,216)" fill-opacity="0.78"/>
<circle cx="432.5" cy="284.7" r="2.15" fill="rgb(124,177,216)" fill-opacity="0.78"/>
<circle cx="416.6" cy="288.6" r="2.15" fill="rgb(124,177,216)" fill-opacity="0.78"/>
<circle cx="456.0" cy="246.7" r="2.15" fill="rgb(124,177,216)" fill-opacity="0.78"/>
<circle cx="458.5" cy="251.7" r="2.15" fill="rgb(124,177,216)" fill-opacity="0.78"/>
<circle cx="427.3" cy="205.4" r="2.15" fill="rgb(124,177,216)" fill-opacity="0.78"/>
<circle cx="432.9" cy="208.1" r="2.15" fill="rgb(124,177,216)" fill-opacity="0.78"/>
<circle cx="424.7" cy="212.7" r="2.15" fill="rgb(124,177,216)" fill-opacity="0.78"/>
<circle cx="429.9" cy="212.4" r="2.15" fill="rgb(124,177,216)" fill-opacity="0.78"/>
<circle cx="435.4" cy="212.4" r="2.15" fill="rgb(124,177,216)" fill-opacity="0.78"/>
<circle cx="438.7" cy="212.0" r="2.15" fill="rgb(124,177,216)" fill-opacity="0.78"/>
<circle cx="432.1" cy="214.9" r="2.15" fill="rgb(124,177,216)" fill-opacity="0.78"/>
<circle cx="417.7" cy="218.6" r="2.15" fill="rgb(124,177,216)" fill-opacity="0.78"/>
<circle cx="423.6" cy="219.0" r="2.15" fill="rgb(124,177,216)" fill-opacity="0.78"/>
<circle cx="421.8" cy="221.5" r="2.15" fill="rgb(124,177,216)" fill-opacity="0.78"/>
<circle cx="414.8" cy="222.3" r="2.15" fill="rgb(124,177,216)" fill-opacity="0.78"/>
<circle cx="413.3" cy="223.8" r="2.15" fill="rgb(124,177,216)" fill-opacity="0.78"/>
<circle cx="427.6" cy="220.4" r="2.15" fill="rgb(124,177,216)" fill-opacity="0.78"/>
<circle cx="432.1" cy="219.7" r="2.15" fill="rgb(124,177,216)" fill-opacity="0.78"/>
<circle cx="435.7" cy="217.5" r="2.15" fill="rgb(124,177,216)" fill-opacity="0.78"/>
<circle cx="438.7" cy="216.0" r="2.15" fill="rgb(124,177,216)" fill-opacity="0.78"/>
<circle cx="431.3" cy="224.1" r="2.15" fill="rgb(124,177,216)" fill-opacity="0.78"/>
<circle cx="429.1" cy="225.6" r="2.15" fill="rgb(124,177,216)" fill-opacity="0.78"/>
<circle cx="435.0" cy="223.4" r="2.15" fill="rgb(124,177,216)" fill-opacity="0.78"/>
<circle cx="438.7" cy="223.4" r="2.15" fill="rgb(124,177,216)" fill-opacity="0.78"/>
<circle cx="421.8" cy="227.1" r="2.15" fill="rgb(124,177,216)" fill-opacity="0.78"/>
<circle cx="438.0" cy="227.1" r="2.15" fill="rgb(124,177,216)" fill-opacity="0.78"/>
<circle cx="433.5" cy="227.8" r="2.15" fill="rgb(124,177,216)" fill-opacity="0.78"/>
<circle cx="446.5" cy="207.6" r="2.15" fill="rgb(124,177,216)" fill-opacity="0.78"/>
<circle cx="449.0" cy="205.7" r="2.15" fill="rgb(124,177,216)" fill-opacity="0.78"/>
<circle cx="452.0" cy="205.4" r="2.15" fill="rgb(124,177,216)" fill-opacity="0.78"/>
<circle cx="448.3" cy="210.9" r="2.15" fill="rgb(124,177,216)" fill-opacity="0.78"/>
<circle cx="440.2" cy="211.3" r="2.15" fill="rgb(124,177,216)" fill-opacity="0.78"/>
<circle cx="444.6" cy="213.5" r="2.15" fill="rgb(124,177,216)" fill-opacity="0.78"/>
<circle cx="449.8" cy="214.2" r="2.15" fill="rgb(124,177,216)" fill-opacity="0.78"/>
<circle cx="440.9" cy="215.3" r="2.15" fill="rgb(124,177,216)" fill-opacity="0.78"/>
<circle cx="453.8" cy="217.1" r="2.15" fill="rgb(124,177,216)" fill-opacity="0.78"/>
<circle cx="458.6" cy="215.7" r="2.15" fill="rgb(124,177,216)" fill-opacity="0.78"/>
<circle cx="463.7" cy="219.7" r="2.15" fill="rgb(124,177,216)" fill-opacity="0.78"/>
<circle cx="467.0" cy="221.9" r="2.15" fill="rgb(124,177,216)" fill-opacity="0.78"/>
<circle cx="445.7" cy="217.1" r="2.15" fill="rgb(124,177,216)" fill-opacity="0.78"/>
<circle cx="439.5" cy="218.2" r="2.15" fill="rgb(124,177,216)" fill-opacity="0.78"/>
<circle cx="449.0" cy="220.4" r="2.15" fill="rgb(124,177,216)" fill-opacity="0.78"/>
<circle cx="452.7" cy="221.5" r="2.15" fill="rgb(124,177,216)" fill-opacity="0.78"/>
<circle cx="455.3" cy="223.8" r="2.15" fill="rgb(124,177,216)" fill-opacity="0.78"/>
<circle cx="456.4" cy="225.6" r="2.15" fill="rgb(124,177,216)" fill-opacity="0.78"/>
<circle cx="442.4" cy="221.9" r="2.15" fill="rgb(124,177,216)" fill-opacity="0.78"/>
<circle cx="446.1" cy="223.4" r="2.15" fill="rgb(124,177,216)" fill-opacity="0.78"/>
<circle cx="439.5" cy="223.4" r="2.15" fill="rgb(124,177,216)" fill-opacity="0.78"/>
<circle cx="443.9" cy="226.3" r="2.15" fill="rgb(124,177,216)" fill-opacity="0.78"/>
<circle cx="449.0" cy="226.3" r="2.15" fill="rgb(124,177,216)" fill-opacity="0.78"/>
<circle cx="440.2" cy="227.1" r="2.15" fill="rgb(124,177,216)" fill-opacity="0.78"/>
<circle cx="452.7" cy="227.8" r="2.15" fill="rgb(124,177,216)" fill-opacity="0.78"/>
<circle cx="453.4" cy="233.9" r="2.15" fill="rgb(124,177,216)" fill-opacity="0.78"/>
<circle cx="456.4" cy="235.4" r="2.15" fill="rgb(124,177,216)" fill-opacity="0.78"/>
<circle cx="460.1" cy="233.5" r="2.15" fill="rgb(124,177,216)" fill-opacity="0.78"/>
<circle cx="463.0" cy="233.1" r="2.15" fill="rgb(124,177,216)" fill-opacity="0.78"/>
<circle cx="465.6" cy="233.5" r="2.15" fill="rgb(124,177,216)" fill-opacity="0.78"/>
<circle cx="454.9" cy="237.6" r="2.15" fill="rgb(124,177,216)" fill-opacity="0.78"/>
<circle cx="459.3" cy="238.3" r="2.15" fill="rgb(124,177,216)" fill-opacity="0.78"/>
<circle cx="447.9" cy="235.4" r="2.15" fill="rgb(124,177,216)" fill-opacity="0.78"/>
<circle cx="450.9" cy="241.2" r="2.15" fill="rgb(124,177,216)" fill-opacity="0.78"/>
<circle cx="454.2" cy="243.8" r="2.15" fill="rgb(124,177,216)" fill-opacity="0.78"/>
<circle cx="449.8" cy="246.0" r="2.15" fill="rgb(124,177,216)" fill-opacity="0.78"/>
<circle cx="455.6" cy="247.1" r="2.15" fill="rgb(124,177,216)" fill-opacity="0.78"/>
<circle cx="461.2" cy="243.1" r="2.15" fill="rgb(124,177,216)" fill-opacity="0.78"/>
<circle cx="466.7" cy="243.8" r="2.15" fill="rgb(124,177,216)" fill-opacity="0.78"/>
<circle cx="458.6" cy="251.2" r="2.15" fill="rgb(124,177,216)" fill-opacity="0.78"/>
<circle cx="444.6" cy="245.6" r="2.15" fill="rgb(124,177,216)" fill-opacity="0.78"/>
<circle cx="442.4" cy="249.3" r="2.15" fill="rgb(124,177,216)" fill-opacity="0.78"/>
<circle cx="445.4" cy="242.7" r="2.15" fill="rgb(124,177,216)" fill-opacity="0.78"/>
<circle cx="448.3" cy="231.7" r="2.15" fill="rgb(124,177,216)" fill-opacity="0.78"/>
<circle cx="451.2" cy="229.1" r="2.15" fill="rgb(124,177,216)" fill-opacity="0.78"/>
<circle cx="405.8" cy="235.7" r="2.15" fill="rgb(124,177,216)" fill-opacity="0.78"/>
<circle cx="406.5" cy="238.8" r="2.15" fill="rgb(124,177,216)" fill-opacity="0.78"/>
<circle cx="409.6" cy="255.6" r="2.15" fill="rgb(124,177,216)" fill-opacity="0.78"/>
<circle cx="406.5" cy="255.2" r="2.15" fill="rgb(124,177,216)" fill-opacity="0.78"/>
<circle cx="413.4" cy="262.5" r="2.15" fill="rgb(124,177,216)" fill-opacity="0.78"/>
<circle cx="416.5" cy="254.1" r="2.15" fill="rgb(124,177,216)" fill-opacity="0.78"/>
<circle cx="419.6" cy="249.5" r="2.15" fill="rgb(124,177,216)" fill-opacity="0.78"/>
<circle cx="414.2" cy="221.1" r="2.15" fill="rgb(124,177,216)" fill-opacity="0.78"/>
<circle cx="416.5" cy="218.8" r="2.15" fill="rgb(124,177,216)" fill-opacity="0.78"/>
<circle cx="423.4" cy="218.1" r="2.15" fill="rgb(124,177,216)" fill-opacity="0.78"/>
<circle cx="420.3" cy="223.4" r="2.15" fill="rgb(124,177,216)" fill-opacity="0.78"/>
<circle cx="415.7" cy="234.2" r="2.15" fill="rgb(124,177,216)" fill-opacity="0.78"/>
<circle cx="415.0" cy="239.5" r="2.15" fill="rgb(124,177,216)" fill-opacity="0.78"/>
<circle cx="418.8" cy="241.8" r="2.15" fill="rgb(124,177,216)" fill-opacity="0.78"/>
<circle cx="421.9" cy="245.7" r="2.15" fill="rgb(124,177,216)" fill-opacity="0.78"/>
<circle cx="428.0" cy="250.3" r="2.15" fill="rgb(124,177,216)" fill-opacity="0.78"/>
<circle cx="432.6" cy="254.1" r="2.15" fill="rgb(124,177,216)" fill-opacity="0.78"/>
<circle cx="439.5" cy="255.6" r="2.15" fill="rgb(124,177,216)" fill-opacity="0.78"/>
<circle cx="441.8" cy="251.8" r="2.15" fill="rgb(124,177,216)" fill-opacity="0.78"/>
<circle cx="445.6" cy="246.4" r="2.15" fill="rgb(124,177,216)" fill-opacity="0.78"/>
<circle cx="449.5" cy="253.3" r="2.15" fill="rgb(124,177,216)" fill-opacity="0.78"/>
<circle cx="444.9" cy="260.2" r="2.15" fill="rgb(124,177,216)" fill-opacity="0.78"/>
<circle cx="435.7" cy="261.0" r="2.15" fill="rgb(124,177,216)" fill-opacity="0.78"/>
<circle cx="431.1" cy="262.5" r="2.15" fill="rgb(124,177,216)" fill-opacity="0.78"/>
<circle cx="424.9" cy="259.5" r="2.15" fill="rgb(124,177,216)" fill-opacity="0.78"/>
<circle cx="449.5" cy="241.1" r="2.15" fill="rgb(124,177,216)" fill-opacity="0.78"/>
<circle cx="452.5" cy="230.3" r="2.15" fill="rgb(124,177,216)" fill-opacity="0.78"/>
<circle cx="451.0" cy="235.0" r="2.15" fill="rgb(124,177,216)" fill-opacity="0.78"/>
<circle cx="429.8" cy="243.1" r="2.15" fill="rgb(124,177,216)" fill-opacity="0.78"/>
<circle cx="430.1" cy="233.2" r="2.15" fill="rgb(124,177,216)" fill-opacity="0.78"/>
<circle cx="424.1" cy="234.4" r="2.15" fill="rgb(124,177,216)" fill-opacity="0.78"/>
<circle cx="441.5" cy="242.1" r="2.15" fill="rgb(124,177,216)" fill-opacity="0.78"/>
<circle cx="440.8" cy="240.0" r="2.15" fill="rgb(124,177,216)" fill-opacity="0.78"/>
<circle cx="435.4" cy="239.2" r="2.15" fill="rgb(124,177,216)" fill-opacity="0.78"/>
<circle cx="436.3" cy="243.0" r="2.15" fill="rgb(124,177,216)" fill-opacity="0.78"/>
<circle cx="424.4" cy="231.4" r="2.15" fill="rgb(124,177,216)" fill-opacity="0.78"/>
<circle cx="434.6" cy="236.4" r="2.15" fill="rgb(124,177,216)" fill-opacity="0.78"/>
<circle cx="436.4" cy="229.3" r="2.15" fill="rgb(124,177,216)" fill-opacity="0.78"/>
<circle cx="434.6" cy="241.7" r="2.15" fill="rgb(124,177,216)" fill-opacity="0.78"/>
<circle cx="436.7" cy="251.4" r="2.15" fill="rgb(124,177,216)" fill-opacity="0.78"/>
<circle cx="426.7" cy="228.1" r="2.15" fill="rgb(124,177,216)" fill-opacity="0.78"/>
<circle cx="429.1" cy="235.7" r="2.15" fill="rgb(124,177,216)" fill-opacity="0.78"/>
<circle cx="437.4" cy="240.0" r="2.15" fill="rgb(124,177,216)" fill-opacity="0.78"/>
<circle cx="428.2" cy="225.5" r="2.15" fill="rgb(124,177,216)" fill-opacity="0.78"/>
<circle cx="427.6" cy="251.7" r="2.15" fill="rgb(124,177,216)" fill-opacity="0.78"/>
<circle cx="425.1" cy="239.9" r="2.15" fill="rgb(124,177,216)" fill-opacity="0.78"/>
<circle cx="435.6" cy="219.1" r="2.15" fill="rgb(124,177,216)" fill-opacity="0.78"/>
<circle cx="432.4" cy="252.7" r="2.15" fill="rgb(124,177,216)" fill-opacity="0.78"/>
<circle cx="431.1" cy="227.2" r="2.15" fill="rgb(124,177,216)" fill-opacity="0.78"/>
<circle cx="436.2" cy="236.3" r="2.15" fill="rgb(124,177,216)" fill-opacity="0.78"/>
<circle cx="419.6" cy="246.9" r="2.15" fill="rgb(124,177,216)" fill-opacity="0.78"/>
<circle cx="437.7" cy="248.4" r="2.15" fill="rgb(124,177,216)" fill-opacity="0.78"/>
<circle cx="444.2" cy="241.3" r="2.15" fill="rgb(124,177,216)" fill-opacity="0.78"/>
<circle cx="433.0" cy="221.4" r="2.15" fill="rgb(124,177,216)" fill-opacity="0.78"/>
<circle cx="437.2" cy="229.7" r="2.15" fill="rgb(124,177,216)" fill-opacity="0.78"/>
<circle cx="428.2" cy="221.8" r="2.15" fill="rgb(124,177,216)" fill-opacity="0.78"/>
<circle cx="423.8" cy="230.6" r="2.15" fill="rgb(124,177,216)" fill-opacity="0.78"/>
<circle cx="419.6" cy="239.9" r="2.15" fill="rgb(124,177,216)" fill-opacity="0.78"/>
<circle cx="444.3" cy="243.9" r="2.15" fill="rgb(124,177,216)" fill-opacity="0.78"/>
<circle cx="435.0" cy="228.2" r="2.15" fill="rgb(124,177,216)" fill-opacity="0.78"/>
<circle cx="422.5" cy="248.7" r="2.15" fill="rgb(124,177,216)" fill-opacity="0.78"/>
<circle cx="441.4" cy="238.9" r="2.15" fill="rgb(124,177,216)" fill-opacity="0.78"/>
<circle cx="434.1" cy="242.2" r="2.15" fill="rgb(124,177,216)" fill-opacity="0.78"/>
<circle cx="445.5" cy="244.4" r="2.15" fill="rgb(124,177,216)" fill-opacity="0.78"/>
<circle cx="436.4" cy="243.6" r="2.15" fill="rgb(124,177,216)" fill-opacity="0.78"/>
<circle cx="440.1" cy="243.4" r="2.15" fill="rgb(124,177,216)" fill-opacity="0.78"/>
<circle cx="430.4" cy="249.2" r="2.15" fill="rgb(124,177,216)" fill-opacity="0.78"/>
<circle cx="436.7" cy="235.2" r="2.15" fill="rgb(124,177,216)" fill-opacity="0.78"/>
<circle cx="434.8" cy="244.8" r="2.15" fill="rgb(124,177,216)" fill-opacity="0.78"/>
<circle cx="433.0" cy="250.7" r="2.15" fill="rgb(124,177,216)" fill-opacity="0.78"/>
<circle cx="426.4" cy="232.0" r="2.15" fill="rgb(124,177,216)" fill-opacity="0.78"/>
<circle cx="440.9" cy="237.3" r="2.15" fill="rgb(124,177,216)" fill-opacity="0.78"/>
<circle cx="424.5" cy="248.4" r="2.15" fill="rgb(124,177,216)" fill-opacity="0.78"/>
<circle cx="444.5" cy="231.7" r="2.15" fill="rgb(124,177,216)" fill-opacity="0.78"/>
<circle cx="420.3" cy="235.4" r="2.15" fill="rgb(124,177,216)" fill-opacity="0.78"/>
<circle cx="430.7" cy="233.4" r="2.15" fill="rgb(124,177,216)" fill-opacity="0.78"/>
<circle cx="425.3" cy="244.6" r="2.15" fill="rgb(124,177,216)" fill-opacity="0.78"/>
<circle cx="441.6" cy="247.3" r="2.15" fill="rgb(124,177,216)" fill-opacity="0.78"/>
<circle cx="434.9" cy="238.7" r="2.15" fill="rgb(124,177,216)" fill-opacity="0.78"/>
<circle cx="433.3" cy="243.9" r="2.15" fill="rgb(124,177,216)" fill-opacity="0.78"/>
<circle cx="430.5" cy="240.3" r="2.15" fill="rgb(124,177,216)" fill-opacity="0.78"/>
<circle cx="436.9" cy="237.0" r="2.15" fill="rgb(124,177,216)" fill-opacity="0.78"/>
<circle cx="438.5" cy="243.8" r="2.15" fill="rgb(124,177,216)" fill-opacity="0.78"/>
<circle cx="428.4" cy="232.5" r="2.15" fill="rgb(124,177,216)" fill-opacity="0.78"/>
<circle cx="431.9" cy="248.1" r="2.15" fill="rgb(124,177,216)" fill-opacity="0.78"/>
<circle cx="429.1" cy="241.6" r="2.15" fill="rgb(124,177,216)" fill-opacity="0.78"/>
<circle cx="422.4" cy="239.9" r="2.15" fill="rgb(124,177,216)" fill-opacity="0.78"/>
<circle cx="435.4" cy="239.9" r="2.15" fill="rgb(124,177,216)" fill-opacity="0.78"/>
<circle cx="428.3" cy="244.9" r="2.15" fill="rgb(124,177,216)" fill-opacity="0.78"/>
<circle cx="434.4" cy="230.7" r="2.15" fill="rgb(124,177,216)" fill-opacity="0.78"/>
<circle cx="427.3" cy="235.8" r="2.15" fill="rgb(124,177,216)" fill-opacity="0.78"/>
<circle cx="430.1" cy="236.2" r="2.15" fill="rgb(124,177,216)" fill-opacity="0.78"/>
<circle cx="440.6" cy="223.0" r="2.15" fill="rgb(124,177,216)" fill-opacity="0.78"/>
<circle cx="431.4" cy="248.4" r="2.15" fill="rgb(124,177,216)" fill-opacity="0.78"/>
<circle cx="439.3" cy="254.9" r="2.15" fill="rgb(124,177,216)" fill-opacity="0.78"/>
<circle cx="429.1" cy="244.5" r="2.15" fill="rgb(124,177,216)" fill-opacity="0.78"/>
<circle cx="437.8" cy="219.1" r="2.15" fill="rgb(124,177,216)" fill-opacity="0.78"/>
<circle cx="433.5" cy="251.3" r="2.15" fill="rgb(124,177,216)" fill-opacity="0.78"/>
<circle cx="430.7" cy="239.3" r="2.15" fill="rgb(124,177,216)" fill-opacity="0.78"/>
<circle cx="438.8" cy="238.7" r="2.15" fill="rgb(124,177,216)" fill-opacity="0.78"/>
<circle cx="431.2" cy="255.4" r="2.15" fill="rgb(124,177,216)" fill-opacity="0.78"/>
<circle cx="440.9" cy="233.5" r="2.15" fill="rgb(124,177,216)" fill-opacity="0.78"/>
<circle cx="439.8" cy="233.8" r="2.15" fill="rgb(124,177,216)" fill-opacity="0.78"/>
<circle cx="433.1" cy="245.5" r="2.15" fill="rgb(124,177,216)" fill-opacity="0.78"/>
<circle cx="433.9" cy="244.7" r="2.15" fill="rgb(124,177,216)" fill-opacity="0.78"/>
<circle cx="437.2" cy="225.4" r="2.15" fill="rgb(124,177,216)" fill-opacity="0.78"/>
<circle cx="442.8" cy="246.0" r="2.15" fill="rgb(124,177,216)" fill-opacity="0.78"/>
<circle cx="432.0" cy="223.3" r="2.15" fill="rgb(124,177,216)" fill-opacity="0.78"/>
<circle cx="440.4" cy="234.9" r="2.15" fill="rgb(124,177,216)" fill-opacity="0.78"/>
<circle cx="431.2" cy="229.8" r="2.15" fill="rgb(124,177,216)" fill-opacity="0.78"/>
<circle cx="435.4" cy="241.9" r="2.15" fill="rgb(124,177,216)" fill-opacity="0.78"/>
<circle cx="444.3" cy="234.8" r="2.15" fill="rgb(124,177,216)" fill-opacity="0.78"/>
<circle cx="425.7" cy="249.2" r="2.15" fill="rgb(124,177,216)" fill-opacity="0.78"/>
<circle cx="433.0" cy="238.5" r="2.15" fill="rgb(124,177,216)" fill-opacity="0.78"/>
<circle cx="444.1" cy="233.8" r="2.15" fill="rgb(124,177,216)" fill-opacity="0.78"/>
<circle cx="434.7" cy="229.7" r="2.15" fill="rgb(124,177,216)" fill-opacity="0.78"/>
<circle cx="431.9" cy="247.0" r="2.15" fill="rgb(124,177,216)" fill-opacity="0.78"/>
<circle cx="432.7" cy="252.9" r="2.15" fill="rgb(124,177,216)" fill-opacity="0.78"/>
<circle cx="431.5" cy="249.5" r="2.15" fill="rgb(124,177,216)" fill-opacity="0.78"/>
<circle cx="426.3" cy="247.6" r="2.15" fill="rgb(124,177,216)" fill-opacity="0.78"/>
<circle cx="421.5" cy="236.8" r="2.15" fill="rgb(124,177,216)" fill-opacity="0.78"/>
<circle cx="430.4" cy="236.7" r="2.15" fill="rgb(124,177,216)" fill-opacity="0.78"/>
<circle cx="427.0" cy="239.8" r="2.15" fill="rgb(124,177,216)" fill-opacity="0.78"/>
<circle cx="436.5" cy="249.0" r="2.15" fill="rgb(124,177,216)" fill-opacity="0.78"/>
<circle cx="430.3" cy="221.9" r="2.15" fill="rgb(124,177,216)" fill-opacity="0.78"/>
<circle cx="427.3" cy="249.9" r="2.15" fill="rgb(124,177,216)" fill-opacity="0.78"/>
<circle cx="440.6" cy="246.5" r="2.15" fill="rgb(124,177,216)" fill-opacity="0.78"/>
<circle cx="432.1" cy="246.7" r="2.15" fill="rgb(124,177,216)" fill-opacity="0.78"/>
<circle cx="433.4" cy="222.9" r="2.15" fill="rgb(124,177,216)" fill-opacity="0.78"/>
<circle cx="418.7" cy="229.3" r="2.15" fill="rgb(124,177,216)" fill-opacity="0.78"/>
<circle cx="439.8" cy="230.2" r="2.15" fill="rgb(124,177,216)" fill-opacity="0.78"/>
<circle cx="424.3" cy="227.7" r="2.15" fill="rgb(124,177,216)" fill-opacity="0.78"/>
<circle cx="419.0" cy="235.6" r="2.15" fill="rgb(124,177,216)" fill-opacity="0.78"/>
<circle cx="598.8" cy="171.4" r="2.15" fill="rgb(124,177,216)" fill-opacity="0.78"/>
<circle cx="616.7" cy="172.3" r="2.15" fill="rgb(124,177,216)" fill-opacity="0.78"/>
<circle cx="594.7" cy="179.0" r="2.15" fill="rgb(124,177,216)" fill-opacity="0.78"/>
<circle cx="606.8" cy="180.6" r="2.15" fill="rgb(124,177,216)" fill-opacity="0.78"/>
<circle cx="611.1" cy="185.1" r="2.15" fill="rgb(124,177,216)" fill-opacity="0.78"/>
<circle cx="609.0" cy="188.6" r="2.15" fill="rgb(124,177,216)" fill-opacity="0.78"/>
<circle cx="621.6" cy="184.9" r="2.15" fill="rgb(124,177,216)" fill-opacity="0.78"/>
<circle cx="599.6" cy="191.9" r="2.15" fill="rgb(124,177,216)" fill-opacity="0.78"/>
<circle cx="603.2" cy="197.0" r="2.15" fill="rgb(124,177,216)" fill-opacity="0.78"/>
<circle cx="605.9" cy="198.6" r="2.15" fill="rgb(124,177,216)" fill-opacity="0.78"/>
<circle cx="609.6" cy="197.0" r="2.15" fill="rgb(124,177,216)" fill-opacity="0.78"/>
<circle cx="611.4" cy="197.0" r="2.15" fill="rgb(124,177,216)" fill-opacity="0.78"/>
<circle cx="621.6" cy="194.3" r="2.15" fill="rgb(124,177,216)" fill-opacity="0.78"/>
<circle cx="624.1" cy="197.0" r="2.15" fill="rgb(124,177,216)" fill-opacity="0.78"/>
<circle cx="622.1" cy="199.0" r="2.15" fill="rgb(124,177,216)" fill-opacity="0.78"/>
<circle cx="565.5" cy="211.3" r="2.15" fill="rgb(124,177,216)" fill-opacity="0.78"/>
<circle cx="575.7" cy="214.6" r="2.15" fill="rgb(124,177,216)" fill-opacity="0.78"/>
<circle cx="579.0" cy="218.7" r="2.15" fill="rgb(124,177,216)" fill-opacity="0.78"/>
<circle cx="587.9" cy="211.3" r="2.15" fill="rgb(124,177,216)" fill-opacity="0.78"/>
<circle cx="593.7" cy="220.1" r="2.15" fill="rgb(124,177,216)" fill-opacity="0.78"/>
<circle cx="590.4" cy="230.5" r="2.15" fill="rgb(124,177,216)" fill-opacity="0.78"/>
<circle cx="601.7" cy="222.0" r="2.15" fill="rgb(124,177,216)" fill-opacity="0.78"/>
<circle cx="603.5" cy="223.2" r="2.15" fill="rgb(124,177,216)" fill-opacity="0.78"/>
<circle cx="606.0" cy="223.8" r="2.15" fill="rgb(124,177,216)" fill-opacity="0.78"/>
<circle cx="602.3" cy="227.5" r="2.15" fill="rgb(124,177,216)" fill-opacity="0.78"/>
<circle cx="603.5" cy="197.5" r="2.15" fill="rgb(124,177,216)" fill-opacity="0.78"/>
<circle cx="606.0" cy="199.9" r="2.15" fill="rgb(124,177,216)" fill-opacity="0.78"/>
<circle cx="602.3" cy="200.5" r="2.15" fill="rgb(124,177,216)" fill-opacity="0.78"/>
<circle cx="608.4" cy="197.5" r="2.15" fill="rgb(124,177,216)" fill-opacity="0.78"/>
<circle cx="604.7" cy="207.3" r="2.15" fill="rgb(124,177,216)" fill-opacity="0.78"/>
<circle cx="606.6" cy="211.5" r="2.15" fill="rgb(124,177,216)" fill-opacity="0.78"/>
<circle cx="608.4" cy="214.6" r="2.15" fill="rgb(124,177,216)" fill-opacity="0.78"/>
<circle cx="606.6" cy="215.8" r="2.15" fill="rgb(124,177,216)" fill-opacity="0.78"/>
<circle cx="607.8" cy="218.9" r="2.15" fill="rgb(124,177,216)" fill-opacity="0.78"/>
<circle cx="599.2" cy="234.2" r="2.15" fill="rgb(124,177,216)" fill-opacity="0.78"/>
<circle cx="608.4" cy="226.3" r="2.15" fill="rgb(124,177,216)" fill-opacity="0.78"/>
<circle cx="608.4" cy="231.8" r="2.15" fill="rgb(124,177,216)" fill-opacity="0.78"/>
<circle cx="579.3" cy="256.4" r="2.15" fill="rgb(124,177,216)" fill-opacity="0.78"/>
<circle cx="590.9" cy="259.2" r="2.15" fill="rgb(124,177,216)" fill-opacity="0.78"/>
<circle cx="591.6" cy="264.5" r="2.15" fill="rgb(124,177,216)" fill-opacity="0.78"/>
<circle cx="594.9" cy="245.4" r="2.15" fill="rgb(124,177,216)" fill-opacity="0.78"/>
<circle cx="599.0" cy="234.2" r="2.15" fill="rgb(124,177,216)" fill-opacity="0.78"/>
<circle cx="600.8" cy="238.4" r="2.15" fill="rgb(124,177,216)" fill-opacity="0.78"/>
<circle cx="603.2" cy="238.4" r="2.15" fill="rgb(124,177,216)" fill-opacity="0.78"/>
<circle cx="604.1" cy="243.4" r="2.15" fill="rgb(124,177,216)" fill-opacity="0.78"/>
<circle cx="601.4" cy="248.9" r="2.15" fill="rgb(124,177,216)" fill-opacity="0.78"/>
<circle cx="603.2" cy="250.0" r="2.15" fill="rgb(124,177,216)" fill-opacity="0.78"/>
<circle cx="601.4" cy="256.8" r="2.15" fill="rgb(124,177,216)" fill-opacity="0.78"/>
<circle cx="605.6" cy="266.0" r="2.15" fill="rgb(124,177,216)" fill-opacity="0.78"/>
<circle cx="608.7" cy="272.4" r="2.15" fill="rgb(124,177,216)" fill-opacity="0.78"/>
<circle cx="606.4" cy="199.3" r="2.15" fill="rgb(124,177,216)" fill-opacity="0.78"/>
<circle cx="607.0" cy="201.4" r="2.15" fill="rgb(124,177,216)" fill-opacity="0.78"/>
<circle cx="610.7" cy="196.9" r="2.15" fill="rgb(124,177,216)" fill-opacity="0.78"/>
<circle cx="621.4" cy="196.1" r="2.15" fill="rgb(124,177,216)" fill-opacity="0.78"/>
<circle cx="624.1" cy="197.7" r="2.15" fill="rgb(124,177,216)" fill-opacity="0.78"/>
<circle cx="621.4" cy="200.9" r="2.15" fill="rgb(124,177,216)" fill-opacity="0.78"/>
<circle cx="635.9" cy="202.0" r="2.15" fill="rgb(124,177,216)" fill-opacity="0.78"/>
<circle cx="611.3" cy="204.7" r="2.15" fill="rgb(124,177,216)" fill-opacity="0.78"/>
<circle cx="624.1" cy="205.2" r="2.15" fill="rgb(124,177,216)" fill-opacity="0.78"/>
<circle cx="628.1" cy="205.2" r="2.15" fill="rgb(124,177,216)" fill-opacity="0.78"/>
<circle cx="632.2" cy="207.3" r="2.15" fill="rgb(124,177,216)" fill-opacity="0.78"/>
<circle cx="604.8" cy="207.9" r="2.15" fill="rgb(124,177,216)" fill-opacity="0.78"/>
<circle cx="611.3" cy="208.9" r="2.15" fill="rgb(124,177,216)" fill-opacity="0.78"/>
<circle cx="621.4" cy="210.0" r="2.15" fill="rgb(124,177,216)" fill-opacity="0.78"/>
<circle cx="607.0" cy="211.6" r="2.15" fill="rgb(124,177,216)" fill-opacity="0.78"/>
<circle cx="629.0" cy="212.2" r="2.15" fill="rgb(124,177,216)" fill-opacity="0.78"/>
<circle cx="632.2" cy="211.6" r="2.15" fill="rgb(124,177,216)" fill-opacity="0.78"/>
<circle cx="616.1" cy="214.3" r="2.15" fill="rgb(124,177,216)" fill-opacity="0.78"/>
<circle cx="608.6" cy="215.4" r="2.15" fill="rgb(124,177,216)" fill-opacity="0.78"/>
<circle cx="623.1" cy="215.9" r="2.15" fill="rgb(124,177,216)" fill-opacity="0.78"/>
<circle cx="626.3" cy="216.4" r="2.15" fill="rgb(124,177,216)" fill-opacity="0.78"/>
<circle cx="622.0" cy="217.5" r="2.15" fill="rgb(124,177,216)" fill-opacity="0.78"/>
<circle cx="607.0" cy="218.1" r="2.15" fill="rgb(124,177,216)" fill-opacity="0.78"/>
<circle cx="610.7" cy="217.5" r="2.15" fill="rgb(124,177,216)" fill-opacity="0.78"/>
<circle cx="615.0" cy="219.7" r="2.15" fill="rgb(124,177,216)" fill-opacity="0.78"/>
<circle cx="630.6" cy="218.6" r="2.15" fill="rgb(124,177,216)" fill-opacity="0.78"/>
<circle cx="638.6" cy="222.3" r="2.15" fill="rgb(124,177,216)" fill-opacity="0.78"/>
<circle cx="602.1" cy="221.3" r="2.15" fill="rgb(124,177,216)" fill-opacity="0.78"/>
<circle cx="605.4" cy="222.9" r="2.15" fill="rgb(124,177,216)" fill-opacity="0.78"/>
<circle cx="613.4" cy="222.3" r="2.15" fill="rgb(124,177,216)" fill-opacity="0.78"/>
<circle cx="619.3" cy="222.3" r="2.15" fill="rgb(124,177,216)" fill-opacity="0.78"/>
<circle cx="624.7" cy="221.8" r="2.15" fill="rgb(124,177,216)" fill-opacity="0.78"/>
<circle cx="629.0" cy="222.9" r="2.15" fill="rgb(124,177,216)" fill-opacity="0.78"/>
<circle cx="603.2" cy="227.2" r="2.15" fill="rgb(124,177,216)" fill-opacity="0.78"/>
<circle cx="609.7" cy="227.2" r="2.15" fill="rgb(124,177,216)" fill-opacity="0.78"/>
<circle cx="616.1" cy="226.1" r="2.15" fill="rgb(124,177,216)" fill-opacity="0.78"/>
<circle cx="621.4" cy="227.2" r="2.15" fill="rgb(124,177,216)" fill-opacity="0.78"/>
<circle cx="626.8" cy="227.2" r="2.15" fill="rgb(124,177,216)" fill-opacity="0.78"/>
<circle cx="632.2" cy="226.1" r="2.15" fill="rgb(124,177,216)" fill-opacity="0.78"/>
<circle cx="649.1" cy="203.5" r="2.15" fill="rgb(124,177,216)" fill-opacity="0.78"/>
<circle cx="647.3" cy="204.2" r="2.15" fill="rgb(124,177,216)" fill-opacity="0.78"/>
<circle cx="632.1" cy="207.4" r="2.15" fill="rgb(124,177,216)" fill-opacity="0.78"/>
<circle cx="631.4" cy="211.8" r="2.15" fill="rgb(124,177,216)" fill-opacity="0.78"/>
<circle cx="651.0" cy="215.7" r="2.15" fill="rgb(124,177,216)" fill-opacity="0.78"/>
<circle cx="630.7" cy="218.7" r="2.15" fill="rgb(124,177,216)" fill-opacity="0.78"/>
<circle cx="640.8" cy="222.6" r="2.15" fill="rgb(124,177,216)" fill-opacity="0.78"/>
<circle cx="632.8" cy="224.9" r="2.15" fill="rgb(124,177,216)" fill-opacity="0.78"/>
<circle cx="643.8" cy="224.9" r="2.15" fill="rgb(124,177,216)" fill-opacity="0.78"/>
<circle cx="642.4" cy="228.1" r="2.15" fill="rgb(124,177,216)" fill-opacity="0.78"/>
<circle cx="633.5" cy="231.1" r="2.15" fill="rgb(124,177,216)" fill-opacity="0.78"/>
<circle cx="633.5" cy="234.6" r="2.15" fill="rgb(124,177,216)" fill-opacity="0.78"/>
<circle cx="639.0" cy="236.0" r="2.15" fill="rgb(124,177,216)" fill-opacity="0.78"/>
<circle cx="654.2" cy="240.8" r="2.15" fill="rgb(124,177,216)" fill-opacity="0.78"/>
<circle cx="679.7" cy="242.2" r="2.15" fill="rgb(124,177,216)" fill-opacity="0.78"/>
<circle cx="669.4" cy="247.1" r="2.15" fill="rgb(124,177,216)" fill-opacity="0.78"/>
<circle cx="648.2" cy="238.8" r="2.15" fill="rgb(124,177,216)" fill-opacity="0.78"/>
<circle cx="655.7" cy="254.9" r="2.15" fill="rgb(124,177,216)" fill-opacity="0.78"/>
<circle cx="644.9" cy="254.6" r="2.15" fill="rgb(124,177,216)" fill-opacity="0.78"/>
<circle cx="644.6" cy="256.6" r="2.15" fill="rgb(124,177,216)" fill-opacity="0.78"/>
<circle cx="635.8" cy="255.4" r="2.15" fill="rgb(124,177,216)" fill-opacity="0.78"/>
<circle cx="636.6" cy="261.2" r="2.15" fill="rgb(124,177,216)" fill-opacity="0.78"/>
<circle cx="640.3" cy="262.9" r="2.15" fill="rgb(124,177,216)" fill-opacity="0.78"/>
<circle cx="647.4" cy="264.5" r="2.15" fill="rgb(124,177,216)" fill-opacity="0.78"/>
<circle cx="634.1" cy="277.4" r="2.15" fill="rgb(124,177,216)" fill-opacity="0.78"/>
<circle cx="638.3" cy="251.3" r="2.15" fill="rgb(124,177,216)" fill-opacity="0.78"/>
<circle cx="641.6" cy="248.0" r="2.15" fill="rgb(124,177,216)" fill-opacity="0.78"/>
<circle cx="640.0" cy="244.6" r="2.15" fill="rgb(124,177,216)" fill-opacity="0.78"/>
<circle cx="601.2" cy="258.0" r="2.15" fill="rgb(124,177,216)" fill-opacity="0.78"/>
<circle cx="612.7" cy="259.0" r="2.15" fill="rgb(124,177,216)" fill-opacity="0.78"/>
<circle cx="605.4" cy="266.1" r="2.15" fill="rgb(124,177,216)" fill-opacity="0.78"/>
<circle cx="616.9" cy="264.5" r="2.15" fill="rgb(124,177,216)" fill-opacity="0.78"/>
<circle cx="618.4" cy="267.4" r="2.15" fill="rgb(124,177,216)" fill-opacity="0.78"/>
<circle cx="616.9" cy="270.0" r="2.15" fill="rgb(124,177,216)" fill-opacity="0.78"/>
<circle cx="609.6" cy="272.8" r="2.15" fill="rgb(124,177,216)" fill-opacity="0.78"/>
<circle cx="612.2" cy="272.6" r="2.15" fill="rgb(124,177,216)" fill-opacity="0.78"/>
<circle cx="621.1" cy="273.9" r="2.15" fill="rgb(124,177,216)" fill-opacity="0.78"/>
<circle cx="625.7" cy="268.6" r="2.15" fill="rgb(124,177,216)" fill-opacity="0.78"/>
<circle cx="626.8" cy="272.1" r="2.15" fill="rgb(124,177,216)" fill-opacity="0.78"/>
<circle cx="626.3" cy="276.3" r="2.15" fill="rgb(124,177,216)" fill-opacity="0.78"/>
<circle cx="612.7" cy="278.4" r="2.15" fill="rgb(124,177,216)" fill-opacity="0.78"/>
<circle cx="618.4" cy="279.9" r="2.15" fill="rgb(124,177,216)" fill-opacity="0.78"/>
<circle cx="634.1" cy="277.6" r="2.15" fill="rgb(124,177,216)" fill-opacity="0.78"/>
<circle cx="617.9" cy="288.3" r="2.15" fill="rgb(124,177,216)" fill-opacity="0.78"/>
<circle cx="636.7" cy="261.1" r="2.15" fill="rgb(124,177,216)" fill-opacity="0.78"/>
<circle cx="640.4" cy="262.7" r="2.15" fill="rgb(124,177,216)" fill-opacity="0.78"/>
<circle cx="623.1" cy="261.1" r="2.15" fill="rgb(124,177,216)" fill-opacity="0.78"/>
<circle cx="650.5" cy="216.2" r="2.15" fill="rgb(124,177,216)" fill-opacity="0.78"/>
<circle cx="639.5" cy="221.7" r="2.15" fill="rgb(124,177,216)" fill-opacity="0.78"/>
<circle cx="643.2" cy="224.8" r="2.15" fill="rgb(124,177,216)" fill-opacity="0.78"/>
<circle cx="641.9" cy="227.3" r="2.15" fill="rgb(124,177,216)" fill-opacity="0.78"/>
<circle cx="638.2" cy="231.0" r="2.15" fill="rgb(124,177,216)" fill-opacity="0.78"/>
<circle cx="638.2" cy="235.9" r="2.15" fill="rgb(124,177,216)" fill-opacity="0.78"/>
<circle cx="647.4" cy="238.3" r="2.15" fill="rgb(124,177,216)" fill-opacity="0.78"/>
<circle cx="640.7" cy="245.7" r="2.15" fill="rgb(124,177,216)" fill-opacity="0.78"/>
<circle cx="642.5" cy="248.1" r="2.15" fill="rgb(124,177,216)" fill-opacity="0.78"/>
<circle cx="639.5" cy="250.6" r="2.15" fill="rgb(124,177,216)" fill-opacity="0.78"/>
<circle cx="644.4" cy="254.0" r="2.15" fill="rgb(124,177,216)" fill-opacity="0.78"/>
<circle cx="609.6" cy="243.8" r="2.15" fill="rgb(124,177,216)" fill-opacity="0.78"/>
<circle cx="624.8" cy="233.6" r="2.15" fill="rgb(124,177,216)" fill-opacity="0.78"/>
<circle cx="621.3" cy="230.7" r="2.15" fill="rgb(124,177,216)" fill-opacity="0.78"/>
<circle cx="625.2" cy="250.0" r="2.15" fill="rgb(124,177,216)" fill-opacity="0.78"/>
<circle cx="624.3" cy="243.2" r="2.15" fill="rgb(124,177,216)" fill-opacity="0.78"/>
<circle cx="629.7" cy="248.6" r="2.15" fill="rgb(124,177,216)" fill-opacity="0.78"/>
<circle cx="626.2" cy="259.0" r="2.15" fill="rgb(124,177,216)" fill-opacity="0.78"/>
<circle cx="616.6" cy="230.5" r="2.15" fill="rgb(124,177,216)" fill-opacity="0.78"/>
<circle cx="611.6" cy="249.0" r="2.15" fill="rgb(124,177,216)" fill-opacity="0.78"/>
<circle cx="623.5" cy="252.4" r="2.15" fill="rgb(124,177,216)" fill-opacity="0.78"/>
<circle cx="611.8" cy="236.6" r="2.15" fill="rgb(124,177,216)" fill-opacity="0.78"/>
<circle cx="621.3" cy="251.2" r="2.15" fill="rgb(124,177,216)" fill-opacity="0.78"/>
<circle cx="618.7" cy="234.9" r="2.15" fill="rgb(124,177,216)" fill-opacity="0.78"/>
<circle cx="610.9" cy="232.3" r="2.15" fill="rgb(124,177,216)" fill-opacity="0.78"/>
<circle cx="626.1" cy="239.6" r="2.15" fill="rgb(124,177,216)" fill-opacity="0.78"/>
<circle cx="612.2" cy="224.5" r="2.15" fill="rgb(124,177,216)" fill-opacity="0.78"/>
<circle cx="624.0" cy="245.7" r="2.15" fill="rgb(124,177,216)" fill-opacity="0.78"/>
<circle cx="618.5" cy="246.4" r="2.15" fill="rgb(124,177,216)" fill-opacity="0.78"/>
<circle cx="621.6" cy="226.8" r="2.15" fill="rgb(124,177,216)" fill-opacity="0.78"/>
<circle cx="607.8" cy="227.3" r="2.15" fill="rgb(124,177,216)" fill-opacity="0.78"/>
<circle cx="621.3" cy="240.9" r="2.15" fill="rgb(124,177,216)" fill-opacity="0.78"/>
<circle cx="615.8" cy="222.4" r="2.15" fill="rgb(124,177,216)" fill-opacity="0.78"/>
<circle cx="612.0" cy="242.2" r="2.15" fill="rgb(124,177,216)" fill-opacity="0.78"/>
<circle cx="618.5" cy="246.4" r="2.15" fill="rgb(124,177,216)" fill-opacity="0.78"/>
<circle cx="613.2" cy="236.0" r="2.15" fill="rgb(124,177,216)" fill-opacity="0.78"/>
<circle cx="622.7" cy="244.0" r="2.15" fill="rgb(124,177,216)" fill-opacity="0.78"/>
<circle cx="624.1" cy="241.3" r="2.15" fill="rgb(124,177,216)" fill-opacity="0.78"/>
<circle cx="616.4" cy="250.6" r="2.15" fill="rgb(124,177,216)" fill-opacity="0.78"/>
<circle cx="619.4" cy="224.8" r="2.15" fill="rgb(124,177,216)" fill-opacity="0.78"/>
<circle cx="614.0" cy="238.0" r="2.15" fill="rgb(124,177,216)" fill-opacity="0.78"/>
<circle cx="618.1" cy="240.5" r="2.15" fill="rgb(124,177,216)" fill-opacity="0.78"/>
<circle cx="619.0" cy="240.8" r="2.15" fill="rgb(124,177,216)" fill-opacity="0.78"/>
<circle cx="617.9" cy="217.9" r="2.15" fill="rgb(124,177,216)" fill-opacity="0.78"/>
<circle cx="622.4" cy="254.9" r="2.15" fill="rgb(124,177,216)" fill-opacity="0.78"/>
<circle cx="622.5" cy="235.0" r="2.15" fill="rgb(124,177,216)" fill-opacity="0.78"/>
<circle cx="622.6" cy="222.5" r="2.15" fill="rgb(124,177,216)" fill-opacity="0.78"/>
<circle cx="611.6" cy="249.8" r="2.15" fill="rgb(124,177,216)" fill-opacity="0.78"/>
<circle cx="615.9" cy="216.1" r="2.15" fill="rgb(124,177,216)" fill-opacity="0.78"/>
<circle cx="612.9" cy="246.3" r="2.15" fill="rgb(124,177,216)" fill-opacity="0.78"/>
<circle cx="623.0" cy="240.8" r="2.15" fill="rgb(124,177,216)" fill-opacity="0.78"/>
<circle cx="630.9" cy="249.3" r="2.15" fill="rgb(124,177,216)" fill-opacity="0.78"/>
<circle cx="618.8" cy="247.5" r="2.15" fill="rgb(124,177,216)" fill-opacity="0.78"/>
<circle cx="627.2" cy="220.7" r="2.15" fill="rgb(124,177,216)" fill-opacity="0.78"/>
<circle cx="617.8" cy="249.7" r="2.15" fill="rgb(124,177,216)" fill-opacity="0.78"/>
<circle cx="616.6" cy="255.1" r="2.15" fill="rgb(124,177,216)" fill-opacity="0.78"/>
<circle cx="623.8" cy="252.5" r="2.15" fill="rgb(124,177,216)" fill-opacity="0.78"/>
<circle cx="628.9" cy="234.6" r="2.15" fill="rgb(124,177,216)" fill-opacity="0.78"/>
<circle cx="616.3" cy="252.0" r="2.15" fill="rgb(124,177,216)" fill-opacity="0.78"/>
<circle cx="626.8" cy="238.1" r="2.15" fill="rgb(124,177,216)" fill-opacity="0.78"/>
<circle cx="609.7" cy="241.0" r="2.15" fill="rgb(124,177,216)" fill-opacity="0.78"/>
<circle cx="621.9" cy="256.1" r="2.15" fill="rgb(124,177,216)" fill-opacity="0.78"/>
<circle cx="625.3" cy="238.4" r="2.15" fill="rgb(124,177,216)" fill-opacity="0.78"/>
<circle cx="625.8" cy="246.6" r="2.15" fill="rgb(124,177,216)" fill-opacity="0.78"/>
<circle cx="620.6" cy="238.9" r="2.15" fill="rgb(124,177,216)" fill-opacity="0.78"/>
<circle cx="617.1" cy="249.0" r="2.15" fill="rgb(124,177,216)" fill-opacity="0.78"/>
<circle cx="610.6" cy="227.9" r="2.15" fill="rgb(124,177,216)" fill-opacity="0.78"/>
<circle cx="619.0" cy="214.6" r="2.15" fill="rgb(124,177,216)" fill-opacity="0.78"/>
<circle cx="613.5" cy="247.1" r="2.15" fill="rgb(124,177,216)" fill-opacity="0.78"/>
<circle cx="623.5" cy="237.1" r="2.15" fill="rgb(124,177,216)" fill-opacity="0.78"/>
<circle cx="617.1" cy="215.3" r="2.15" fill="rgb(124,177,216)" fill-opacity="0.78"/>
<circle cx="627.7" cy="223.9" r="2.15" fill="rgb(124,177,216)" fill-opacity="0.78"/>
<circle cx="625.2" cy="253.0" r="2.15" fill="rgb(124,177,216)" fill-opacity="0.78"/>
<circle cx="614.0" cy="215.6" r="2.15" fill="rgb(124,177,216)" fill-opacity="0.78"/>
<circle cx="619.3" cy="242.0" r="2.15" fill="rgb(124,177,216)" fill-opacity="0.78"/>
<circle cx="624.1" cy="249.2" r="2.15" fill="rgb(124,177,216)" fill-opacity="0.78"/>
<circle cx="608.5" cy="229.9" r="2.15" fill="rgb(124,177,216)" fill-opacity="0.78"/>
<circle cx="610.5" cy="220.8" r="2.15" fill="rgb(124,177,216)" fill-opacity="0.78"/>
<circle cx="618.3" cy="238.1" r="2.15" fill="rgb(124,177,216)" fill-opacity="0.78"/>
<circle cx="622.9" cy="212.6" r="2.15" fill="rgb(124,177,216)" fill-opacity="0.78"/>
<circle cx="609.1" cy="237.6" r="2.15" fill="rgb(124,177,216)" fill-opacity="0.78"/>
<circle cx="617.4" cy="233.0" r="2.15" fill="rgb(124,177,216)" fill-opacity="0.78"/>
<circle cx="618.5" cy="225.8" r="2.15" fill="rgb(124,177,216)" fill-opacity="0.78"/>
<circle cx="624.6" cy="243.7" r="2.15" fill="rgb(124,177,216)" fill-opacity="0.78"/>
<circle cx="618.3" cy="227.2" r="2.15" fill="rgb(124,177,216)" fill-opacity="0.78"/>
<circle cx="611.1" cy="238.6" r="2.15" fill="rgb(124,177,216)" fill-opacity="0.78"/>
<circle cx="607.0" cy="241.2" r="2.15" fill="rgb(124,177,216)" fill-opacity="0.78"/>
<circle cx="620.2" cy="216.0" r="2.15" fill="rgb(124,177,216)" fill-opacity="0.78"/>
<circle cx="617.0" cy="233.0" r="2.15" fill="rgb(124,177,216)" fill-opacity="0.78"/>
<circle cx="622.7" cy="247.8" r="2.15" fill="rgb(124,177,216)" fill-opacity="0.78"/>
<circle cx="618.7" cy="224.4" r="2.15" fill="rgb(124,177,216)" fill-opacity="0.78"/>
<circle cx="617.8" cy="237.0" r="2.15" fill="rgb(124,177,216)" fill-opacity="0.78"/>
<circle cx="624.9" cy="242.7" r="2.15" fill="rgb(124,177,216)" fill-opacity="0.78"/>
<circle cx="613.2" cy="216.3" r="2.15" fill="rgb(124,177,216)" fill-opacity="0.78"/>
<circle cx="616.0" cy="226.2" r="2.15" fill="rgb(124,177,216)" fill-opacity="0.78"/>
<circle cx="610.1" cy="236.1" r="2.15" fill="rgb(124,177,216)" fill-opacity="0.78"/>
<circle cx="615.1" cy="239.7" r="2.15" fill="rgb(124,177,216)" fill-opacity="0.78"/>
<circle cx="623.2" cy="231.4" r="2.15" fill="rgb(124,177,216)" fill-opacity="0.78"/>
<circle cx="627.8" cy="239.9" r="2.15" fill="rgb(124,177,216)" fill-opacity="0.78"/>
<circle cx="613.0" cy="242.0" r="2.15" fill="rgb(124,177,216)" fill-opacity="0.78"/>
<circle cx="621.6" cy="258.5" r="2.15" fill="rgb(124,177,216)" fill-opacity="0.78"/>
<circle cx="625.1" cy="253.2" r="2.15" fill="rgb(124,177,216)" fill-opacity="0.78"/>
<circle cx="623.1" cy="235.5" r="2.15" fill="rgb(124,177,216)" fill-opacity="0.78"/>
<circle cx="623.1" cy="220.7" r="2.15" fill="rgb(124,177,216)" fill-opacity="0.78"/>
<circle cx="628.5" cy="221.7" r="2.15" fill="rgb(124,177,216)" fill-opacity="0.78"/>
<circle cx="617.2" cy="238.3" r="2.15" fill="rgb(124,177,216)" fill-opacity="0.78"/>
<circle cx="628.3" cy="238.4" r="2.15" fill="rgb(124,177,216)" fill-opacity="0.78"/>
<circle cx="612.5" cy="242.1" r="2.15" fill="rgb(124,177,216)" fill-opacity="0.78"/>
<circle cx="623.7" cy="249.4" r="2.15" fill="rgb(124,177,216)" fill-opacity="0.78"/>
<circle cx="632.3" cy="238.3" r="2.15" fill="rgb(124,177,216)" fill-opacity="0.78"/>
<circle cx="621.1" cy="231.1" r="2.15" fill="rgb(124,177,216)" fill-opacity="0.78"/>
<circle cx="630.3" cy="226.7" r="2.15" fill="rgb(124,177,216)" fill-opacity="0.78"/>
<circle cx="624.4" cy="230.3" r="2.15" fill="rgb(124,177,216)" fill-opacity="0.78"/>
<circle cx="613.4" cy="249.5" r="2.15" fill="rgb(124,177,216)" fill-opacity="0.78"/>
<circle cx="629.7" cy="237.8" r="2.15" fill="rgb(124,177,216)" fill-opacity="0.78"/>
<circle cx="613.6" cy="251.0" r="2.15" fill="rgb(124,177,216)" fill-opacity="0.78"/>
<circle cx="618.6" cy="243.0" r="2.15" fill="rgb(124,177,216)" fill-opacity="0.78"/>
<circle cx="619.0" cy="250.6" r="2.15" fill="rgb(124,177,216)" fill-opacity="0.78"/>
<circle cx="613.8" cy="237.3" r="2.15" fill="rgb(124,177,216)" fill-opacity="0.78"/>
<circle cx="628.4" cy="230.6" r="2.15" fill="rgb(124,177,216)" fill-opacity="0.78"/>
<circle cx="618.5" cy="233.0" r="2.15" fill="rgb(124,177,216)" fill-opacity="0.78"/>
<circle cx="618.0" cy="220.6" r="2.15" fill="rgb(124,177,216)" fill-opacity="0.78"/>
<circle cx="619.2" cy="215.0" r="2.15" fill="rgb(124,177,216)" fill-opacity="0.78"/>
<circle cx="618.4" cy="242.9" r="2.15" fill="rgb(124,177,216)" fill-opacity="0.78"/>
<circle cx="622.7" cy="234.3" r="2.15" fill="rgb(124,177,216)" fill-opacity="0.78"/>
<circle cx="611.8" cy="240.6" r="2.15" fill="rgb(124,177,216)" fill-opacity="0.78"/>
<circle cx="615.1" cy="263.1" r="2.15" fill="rgb(124,177,216)" fill-opacity="0.78"/>
<circle cx="625.1" cy="236.2" r="2.15" fill="rgb(124,177,216)" fill-opacity="0.78"/>
<circle cx="615.2" cy="226.8" r="2.15" fill="rgb(124,177,216)" fill-opacity="0.78"/>
<circle cx="611.5" cy="232.4" r="2.15" fill="rgb(124,177,216)" fill-opacity="0.78"/>
<circle cx="621.4" cy="246.2" r="2.15" fill="rgb(124,177,216)" fill-opacity="0.78"/>
<circle cx="613.4" cy="238.2" r="2.15" fill="rgb(124,177,216)" fill-opacity="0.78"/>
<circle cx="614.8" cy="240.7" r="2.15" fill="rgb(124,177,216)" fill-opacity="0.78"/>
<circle cx="620.2" cy="244.5" r="2.15" fill="rgb(124,177,216)" fill-opacity="0.78"/>
<circle cx="617.1" cy="243.9" r="2.15" fill="rgb(124,177,216)" fill-opacity="0.78"/>
<circle cx="619.4" cy="250.3" r="2.15" fill="rgb(124,177,216)" fill-opacity="0.78"/>
<circle cx="619.0" cy="221.5" r="2.15" fill="rgb(124,177,216)" fill-opacity="0.78"/>
<circle cx="610.6" cy="248.0" r="2.15" fill="rgb(124,177,216)" fill-opacity="0.78"/>
<circle cx="613.8" cy="248.2" r="2.15" fill="rgb(124,177,216)" fill-opacity="0.78"/>
<circle cx="625.0" cy="242.9" r="2.15" fill="rgb(124,177,216)" fill-opacity="0.78"/>
<circle cx="623.1" cy="236.3" r="2.15" fill="rgb(124,177,216)" fill-opacity="0.78"/>
<circle cx="607.7" cy="237.5" r="2.15" fill="rgb(124,177,216)" fill-opacity="0.78"/>
<circle cx="622.6" cy="229.5" r="2.15" fill="rgb(124,177,216)" fill-opacity="0.78"/>
<circle cx="618.2" cy="250.0" r="2.15" fill="rgb(124,177,216)" fill-opacity="0.78"/>
<circle cx="612.0" cy="248.2" r="2.15" fill="rgb(124,177,216)" fill-opacity="0.78"/>
<circle cx="620.2" cy="235.6" r="2.15" fill="rgb(124,177,216)" fill-opacity="0.78"/>
</svg></body></html>
